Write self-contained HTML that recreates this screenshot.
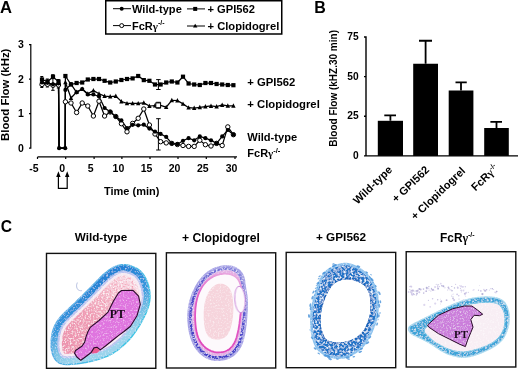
<!DOCTYPE html>
<html><head><meta charset="utf-8"><style>
html,body{margin:0;padding:0;background:#fff;width:520px;height:370px;overflow:hidden}
svg{display:block;will-change:transform}
</style></head><body>
<svg width="520" height="370" viewBox="0 0 520 370" font-family='"Liberation Sans", sans-serif' fill="#000">
<text x="0" y="13" font-size="16.6" font-weight="bold">A</text>
<text x="314.2" y="13" font-size="16" font-weight="bold">B</text>
<text x="0.8" y="232.4" font-size="15.6" font-weight="bold">C</text>
<rect x="105.75" y="0.75" width="176" height="33.25" fill="none" stroke="#000" stroke-width="1.5"/>
<line x1="113" y1="8.7" x2="131" y2="8.7" stroke="#000" stroke-width="1"/><circle cx="121.7" cy="8.7" r="2" fill="#000"/>
<text x="132" y="13" font-size="11.1" font-weight="bold">Wild-type</text>
<line x1="113" y1="25.6" x2="131" y2="25.6" stroke="#000" stroke-width="1"/><circle cx="121.7" cy="25.6" r="2" fill="#fff" stroke="#000" stroke-width="1"/>
<text x="132" y="29.6" font-size="11" font-weight="bold">FcR<tspan font-family="Liberation Serif">γ</tspan><tspan font-size="7" dy="-4.5">-/-</tspan></text>
<line x1="187" y1="8.9" x2="205" y2="8.9" stroke="#000" stroke-width="1"/><rect x="193.2" y="6.9" width="4" height="4" fill="#000"/>
<text x="207.5" y="13" font-size="11.15" font-weight="bold">+ GPI562</text>
<line x1="187" y1="26" x2="205" y2="26" stroke="#000" stroke-width="1"/><path d="M195.2,23.8 L197.4,27.6 L193,27.6 Z" fill="#000"/>
<text x="207.5" y="29.6" font-size="11.2" font-weight="bold">+ Clopidogrel</text>
<path d="M29,44.6 H30.8 V148.2 H29 M29,79.2 H30.8 M29,113.7 H30.8" fill="none" stroke="#000" stroke-width="1.2"/>
<text x="23.9" y="48.0" font-size="10.5" font-weight="bold" text-anchor="end">3</text>
<text x="23.9" y="82.6" font-size="10.5" font-weight="bold" text-anchor="end">2</text>
<text x="23.9" y="117.2" font-size="10.5" font-weight="bold" text-anchor="end">1</text>
<text x="23.9" y="151.8" font-size="10.5" font-weight="bold" text-anchor="end">0</text>
<text transform="translate(9.4,141) rotate(-90)" font-size="11.4" font-weight="bold">Blood Flow (kHz)</text>
<path d="M37.5,156.9 H237 M37.5,156.9 V159 M65.7,156.9 V159 M94.1,156.9 V159 M121.9,156.9 V159 M150,156.9 V159 M178,156.9 V159 M206.3,156.9 V159 M235,156.9 V159" fill="none" stroke="#000" stroke-width="1.2"/>
<text x="34.0" y="172" font-size="10.5" font-weight="bold" text-anchor="middle">-5</text>
<text x="62.2" y="172" font-size="10.5" font-weight="bold" text-anchor="middle">0</text>
<text x="90.6" y="172" font-size="10.5" font-weight="bold" text-anchor="middle">5</text>
<text x="118.4" y="172" font-size="10.5" font-weight="bold" text-anchor="middle">10</text>
<text x="146.5" y="172" font-size="10.5" font-weight="bold" text-anchor="middle">15</text>
<text x="174.5" y="172" font-size="10.5" font-weight="bold" text-anchor="middle">20</text>
<text x="202.8" y="172" font-size="10.5" font-weight="bold" text-anchor="middle">25</text>
<text x="231.5" y="172" font-size="10.5" font-weight="bold" text-anchor="middle">30</text>
<text x="104" y="195" font-size="11" font-weight="bold">Time (min)</text>
<path d="M58.4,177 V188.4 H67.2 V177" fill="none" stroke="#000" stroke-width="1.2"/>
<path d="M58.4,171.2 L60.6,177 L56.2,177 Z M67.2,171.2 L69.4,177 L65,177 Z" fill="#000"/>
<polyline points="42.0,84.5 47.5,84.3 53.0,85.3 58.5,85.0 59.1,148.2 65.2,148.2 65.4,101.8 71.0,103.0 76.6,112.5 82.2,103.0 87.8,106.0 93.4,116.0 99.0,101.2 104.6,116.0 110.2,112.0 115.8,116.5 121.4,123.7 127.0,131.8 132.6,123.4 138.2,118.3 143.8,109.0 149.4,125.0 155.0,134.0 160.6,141.7 166.2,142.9 171.8,143.4 177.4,144.5 183.0,145.5 188.6,146.4 194.2,146.4 199.8,140.3 205.4,144.7 211.0,146.0 216.6,143.4 222.2,145.5 227.8,126.9 233.4,134.7" fill="none" stroke="#000" stroke-width="1.25"/>
<polyline points="42.0,79.5 47.5,81.5 53.0,77.0 58.5,81.5 59.1,148.2 65.2,148.2 65.4,76.0 71.0,84.5 76.6,83.0 82.2,82.5 87.8,79.5 93.4,79.0 99.0,79.0 104.6,80.8 110.2,82.5 115.8,81.5 121.4,80.0 127.0,79.0 132.6,78.4 138.2,76.0 143.8,80.1 149.4,80.8 155.0,84.5 160.6,84.5 166.2,82.5 171.8,81.5 177.4,82.5 183.0,76.7 188.6,83.5 194.2,84.5 199.8,85.0 205.4,83.0 211.0,83.0 216.6,84.0 222.2,84.5 227.8,85.0 233.4,85.2" fill="none" stroke="#000" stroke-width="1.25"/>
<polyline points="42.0,84.0 47.5,83.0 53.0,84.5 58.5,84.0 59.1,148.2 65.2,148.2 65.4,82.3 71.0,98.0 76.6,92.0 82.2,89.0 87.8,93.7 93.4,90.5 99.0,93.7 104.6,96.1 110.2,96.6 115.8,96.1 121.4,101.5 127.0,103.4 132.6,103.4 138.2,103.4 143.8,102.8 149.4,106.0 155.0,105.5 160.6,105.3 166.2,107.2 171.8,100.3 177.4,100.5 183.0,103.9 188.6,107.7 194.2,108.0 199.8,107.3 205.4,106.6 211.0,106.0 216.6,106.6 222.2,105.0 227.8,105.8 233.4,105.8" fill="none" stroke="#000" stroke-width="1.25"/>
<polyline points="42.0,82.5 47.5,82.8 53.0,84.3 58.5,83.5 59.1,148.2 65.2,148.2 65.4,89.9 71.0,84.2 76.6,92.3 82.2,89.0 87.8,94.5 93.4,94.5 99.0,96.5 104.6,108.0 110.2,111.8 115.8,116.6 121.4,120.4 127.0,128.0 132.6,124.8 138.2,125.3 143.8,124.7 149.4,128.6 155.0,131.6 160.6,133.9 166.2,136.9 171.8,143.4 177.4,144.2 183.0,140.8 188.6,138.2 194.2,140.3 199.8,136.4 205.4,138.2 211.0,140.3 216.6,143.4 222.2,136.4 227.8,130.0 233.4,134.7" fill="none" stroke="#000" stroke-width="1.25"/>
<path d="M158.4,79.6 V89.5 M156.15,79.6 H160.65 M156.15,89.5 H160.65" stroke="#000" stroke-width="1" fill="none"/>
<path d="M158.4,102.3 V108.2 M156.15,102.3 H160.65 M156.15,108.2 H160.65" stroke="#000" stroke-width="1" fill="none"/>
<path d="M158.4,118.7 V150 M156.15,118.7 H160.65 M156.15,150 H160.65" stroke="#000" stroke-width="1" fill="none"/>
<path d="M52.9,74.7 V90.3 M51.15,74.7 H54.65 M51.15,90.3 H54.65" stroke="#000" stroke-width="1" fill="none"/>
<path d="M41.8,76.5 V87.5 M40.3,76.5 H43.3 M40.3,87.5 H43.3" stroke="#000" stroke-width="1" fill="none"/>
<path d="M58.3,79.5 V88 M56.8,79.5 H59.8 M56.8,88 H59.8" stroke="#000" stroke-width="1" fill="none"/>
<path d="M47.3,79 V87 M45.8,79 H48.8 M45.8,87 H48.8" stroke="#000" stroke-width="1" fill="none"/>
<path d="M42.0,81.5 L44.2,85.9 L39.8,85.9 Z" fill="#000"/>
<path d="M47.5,80.5 L49.7,84.9 L45.3,84.9 Z" fill="#000"/>
<path d="M53.0,82.0 L55.2,86.4 L50.8,86.4 Z" fill="#000"/>
<path d="M58.5,81.5 L60.7,85.9 L56.3,85.9 Z" fill="#000"/>
<path d="M65.4,79.8 L67.6,84.2 L63.2,84.2 Z" fill="#000"/>
<path d="M71.0,95.5 L73.2,99.9 L68.8,99.9 Z" fill="#000"/>
<path d="M76.6,89.5 L78.8,93.9 L74.4,93.9 Z" fill="#000"/>
<path d="M82.2,86.5 L84.4,90.9 L80.0,90.9 Z" fill="#000"/>
<path d="M87.8,91.2 L90.0,95.6 L85.6,95.6 Z" fill="#000"/>
<path d="M93.4,88.0 L95.6,92.4 L91.2,92.4 Z" fill="#000"/>
<path d="M99.0,91.2 L101.2,95.6 L96.8,95.6 Z" fill="#000"/>
<path d="M104.6,93.6 L106.8,98.0 L102.4,98.0 Z" fill="#000"/>
<path d="M110.2,94.1 L112.4,98.5 L108.0,98.5 Z" fill="#000"/>
<path d="M115.8,93.6 L118.0,98.0 L113.6,98.0 Z" fill="#000"/>
<path d="M121.4,99.0 L123.6,103.4 L119.2,103.4 Z" fill="#000"/>
<path d="M127.0,100.9 L129.2,105.3 L124.8,105.3 Z" fill="#000"/>
<path d="M132.6,100.9 L134.8,105.3 L130.4,105.3 Z" fill="#000"/>
<path d="M138.2,100.9 L140.4,105.3 L136.0,105.3 Z" fill="#000"/>
<path d="M143.8,100.3 L146.0,104.7 L141.6,104.7 Z" fill="#000"/>
<path d="M149.4,103.5 L151.6,107.9 L147.2,107.9 Z" fill="#000"/>
<path d="M155.0,103.0 L157.2,107.4 L152.8,107.4 Z" fill="#000"/>
<rect x="155.8" y="102.9" width="4.8" height="4.8" fill="#fff" stroke="#000" stroke-width="1"/>
<path d="M166.2,104.7 L168.4,109.1 L164.0,109.1 Z" fill="#000"/>
<path d="M171.8,97.8 L174.0,102.2 L169.6,102.2 Z" fill="#000"/>
<path d="M177.4,98.0 L179.6,102.4 L175.2,102.4 Z" fill="#000"/>
<path d="M183.0,101.4 L185.2,105.8 L180.8,105.8 Z" fill="#000"/>
<path d="M188.6,105.2 L190.8,109.6 L186.4,109.6 Z" fill="#000"/>
<path d="M194.2,105.5 L196.4,109.9 L192.0,109.9 Z" fill="#000"/>
<path d="M199.8,104.8 L202.0,109.2 L197.6,109.2 Z" fill="#000"/>
<path d="M205.4,104.1 L207.6,108.5 L203.2,108.5 Z" fill="#000"/>
<path d="M211.0,103.5 L213.2,107.9 L208.8,107.9 Z" fill="#000"/>
<path d="M216.6,104.1 L218.8,108.5 L214.4,108.5 Z" fill="#000"/>
<path d="M222.2,102.5 L224.4,106.9 L220.0,106.9 Z" fill="#000"/>
<path d="M227.8,103.3 L230.0,107.7 L225.6,107.7 Z" fill="#000"/>
<path d="M233.4,103.3 L235.6,107.7 L231.2,107.7 Z" fill="#000"/>
<rect x="39.9" y="77.4" width="4.2" height="4.2" fill="#000"/>
<rect x="45.4" y="79.4" width="4.2" height="4.2" fill="#000"/>
<rect x="50.9" y="74.9" width="4.2" height="4.2" fill="#000"/>
<rect x="56.4" y="79.4" width="4.2" height="4.2" fill="#000"/>
<rect x="63.3" y="73.9" width="4.2" height="4.2" fill="#000"/>
<rect x="68.9" y="82.4" width="4.2" height="4.2" fill="#000"/>
<rect x="74.5" y="80.9" width="4.2" height="4.2" fill="#000"/>
<rect x="80.1" y="80.4" width="4.2" height="4.2" fill="#000"/>
<rect x="85.7" y="77.4" width="4.2" height="4.2" fill="#000"/>
<rect x="91.3" y="76.9" width="4.2" height="4.2" fill="#000"/>
<rect x="96.9" y="76.9" width="4.2" height="4.2" fill="#000"/>
<rect x="102.5" y="78.7" width="4.2" height="4.2" fill="#000"/>
<rect x="108.1" y="80.4" width="4.2" height="4.2" fill="#000"/>
<rect x="113.7" y="79.4" width="4.2" height="4.2" fill="#000"/>
<rect x="119.3" y="77.9" width="4.2" height="4.2" fill="#000"/>
<rect x="124.9" y="76.9" width="4.2" height="4.2" fill="#000"/>
<rect x="130.5" y="76.3" width="4.2" height="4.2" fill="#000"/>
<rect x="136.1" y="73.9" width="4.2" height="4.2" fill="#000"/>
<rect x="141.7" y="78.0" width="4.2" height="4.2" fill="#000"/>
<rect x="147.3" y="78.7" width="4.2" height="4.2" fill="#000"/>
<rect x="152.9" y="82.4" width="4.2" height="4.2" fill="#000"/>
<rect x="158.5" y="82.4" width="4.2" height="4.2" fill="#000"/>
<rect x="164.1" y="80.4" width="4.2" height="4.2" fill="#000"/>
<rect x="169.7" y="79.4" width="4.2" height="4.2" fill="#000"/>
<rect x="175.3" y="80.4" width="4.2" height="4.2" fill="#000"/>
<rect x="180.9" y="74.6" width="4.2" height="4.2" fill="#000"/>
<rect x="186.5" y="81.4" width="4.2" height="4.2" fill="#000"/>
<rect x="192.1" y="82.4" width="4.2" height="4.2" fill="#000"/>
<rect x="197.7" y="82.9" width="4.2" height="4.2" fill="#000"/>
<rect x="203.3" y="80.9" width="4.2" height="4.2" fill="#000"/>
<rect x="208.9" y="80.9" width="4.2" height="4.2" fill="#000"/>
<rect x="214.5" y="81.9" width="4.2" height="4.2" fill="#000"/>
<rect x="220.1" y="82.4" width="4.2" height="4.2" fill="#000"/>
<rect x="225.7" y="82.9" width="4.2" height="4.2" fill="#000"/>
<rect x="231.3" y="83.1" width="4.2" height="4.2" fill="#000"/>
<circle cx="42.0" cy="84.5" r="2.2" fill="#fff" stroke="#000" stroke-width="1"/>
<circle cx="47.5" cy="84.3" r="2.2" fill="#fff" stroke="#000" stroke-width="1"/>
<circle cx="53.0" cy="85.3" r="2.2" fill="#fff" stroke="#000" stroke-width="1"/>
<circle cx="58.5" cy="85.0" r="2.2" fill="#fff" stroke="#000" stroke-width="1"/>
<circle cx="65.4" cy="101.8" r="2.2" fill="#fff" stroke="#000" stroke-width="1"/>
<circle cx="71.0" cy="103.0" r="2.2" fill="#fff" stroke="#000" stroke-width="1"/>
<circle cx="76.6" cy="112.5" r="2.2" fill="#fff" stroke="#000" stroke-width="1"/>
<circle cx="82.2" cy="103.0" r="2.2" fill="#fff" stroke="#000" stroke-width="1"/>
<circle cx="87.8" cy="106.0" r="2.2" fill="#fff" stroke="#000" stroke-width="1"/>
<circle cx="93.4" cy="116.0" r="2.2" fill="#fff" stroke="#000" stroke-width="1"/>
<circle cx="99.0" cy="101.2" r="2.2" fill="#fff" stroke="#000" stroke-width="1"/>
<circle cx="104.6" cy="116.0" r="2.2" fill="#fff" stroke="#000" stroke-width="1"/>
<circle cx="110.2" cy="112.0" r="2.2" fill="#fff" stroke="#000" stroke-width="1"/>
<circle cx="115.8" cy="116.5" r="2.2" fill="#fff" stroke="#000" stroke-width="1"/>
<circle cx="121.4" cy="123.7" r="2.2" fill="#fff" stroke="#000" stroke-width="1"/>
<circle cx="127.0" cy="131.8" r="2.2" fill="#fff" stroke="#000" stroke-width="1"/>
<circle cx="132.6" cy="123.4" r="2.2" fill="#fff" stroke="#000" stroke-width="1"/>
<circle cx="138.2" cy="118.3" r="2.2" fill="#fff" stroke="#000" stroke-width="1"/>
<circle cx="143.8" cy="109.0" r="2.2" fill="#fff" stroke="#000" stroke-width="1"/>
<circle cx="149.4" cy="125.0" r="2.2" fill="#fff" stroke="#000" stroke-width="1"/>
<circle cx="155.0" cy="134.0" r="2.2" fill="#fff" stroke="#000" stroke-width="1"/>
<circle cx="160.6" cy="141.7" r="2.2" fill="#fff" stroke="#000" stroke-width="1"/>
<circle cx="166.2" cy="142.9" r="2.2" fill="#fff" stroke="#000" stroke-width="1"/>
<circle cx="171.8" cy="143.4" r="2.2" fill="#fff" stroke="#000" stroke-width="1"/>
<circle cx="177.4" cy="144.5" r="2.2" fill="#fff" stroke="#000" stroke-width="1"/>
<circle cx="183.0" cy="145.5" r="2.2" fill="#fff" stroke="#000" stroke-width="1"/>
<circle cx="188.6" cy="146.4" r="2.2" fill="#fff" stroke="#000" stroke-width="1"/>
<circle cx="194.2" cy="146.4" r="2.2" fill="#fff" stroke="#000" stroke-width="1"/>
<circle cx="199.8" cy="140.3" r="2.2" fill="#fff" stroke="#000" stroke-width="1"/>
<circle cx="205.4" cy="144.7" r="2.2" fill="#fff" stroke="#000" stroke-width="1"/>
<circle cx="211.0" cy="146.0" r="2.2" fill="#fff" stroke="#000" stroke-width="1"/>
<circle cx="216.6" cy="143.4" r="2.2" fill="#fff" stroke="#000" stroke-width="1"/>
<circle cx="222.2" cy="145.5" r="2.2" fill="#fff" stroke="#000" stroke-width="1"/>
<circle cx="227.8" cy="126.9" r="2.2" fill="#fff" stroke="#000" stroke-width="1"/>
<circle cx="233.4" cy="134.7" r="2.2" fill="#fff" stroke="#000" stroke-width="1"/>
<circle cx="42.0" cy="82.5" r="2.1" fill="#000"/>
<circle cx="47.5" cy="82.8" r="2.1" fill="#000"/>
<circle cx="53.0" cy="84.3" r="2.1" fill="#000"/>
<circle cx="58.5" cy="83.5" r="2.1" fill="#000"/>
<circle cx="59.1" cy="148.2" r="2.1" fill="#000"/>
<circle cx="65.2" cy="148.2" r="2.1" fill="#000"/>
<circle cx="65.4" cy="89.9" r="2.1" fill="#000"/>
<circle cx="71.0" cy="84.2" r="2.1" fill="#000"/>
<circle cx="76.6" cy="92.3" r="2.1" fill="#000"/>
<circle cx="82.2" cy="89.0" r="2.1" fill="#000"/>
<circle cx="87.8" cy="94.5" r="2.1" fill="#000"/>
<circle cx="93.4" cy="94.5" r="2.1" fill="#000"/>
<circle cx="99.0" cy="96.5" r="2.1" fill="#000"/>
<circle cx="104.6" cy="108.0" r="2.1" fill="#000"/>
<circle cx="110.2" cy="111.8" r="2.1" fill="#000"/>
<circle cx="115.8" cy="116.6" r="2.1" fill="#000"/>
<circle cx="121.4" cy="120.4" r="2.1" fill="#000"/>
<circle cx="127.0" cy="128.0" r="2.1" fill="#000"/>
<circle cx="132.6" cy="124.8" r="2.1" fill="#000"/>
<circle cx="138.2" cy="125.3" r="2.1" fill="#000"/>
<circle cx="143.8" cy="124.7" r="2.1" fill="#000"/>
<circle cx="149.4" cy="128.6" r="2.1" fill="#000"/>
<circle cx="155.0" cy="131.6" r="2.1" fill="#000"/>
<circle cx="160.6" cy="133.9" r="2.1" fill="#000"/>
<circle cx="166.2" cy="136.9" r="2.1" fill="#000"/>
<circle cx="171.8" cy="143.4" r="2.1" fill="#000"/>
<circle cx="177.4" cy="144.2" r="2.1" fill="#000"/>
<circle cx="183.0" cy="140.8" r="2.1" fill="#000"/>
<circle cx="188.6" cy="138.2" r="2.1" fill="#000"/>
<circle cx="194.2" cy="140.3" r="2.1" fill="#000"/>
<circle cx="199.8" cy="136.4" r="2.1" fill="#000"/>
<circle cx="205.4" cy="138.2" r="2.1" fill="#000"/>
<circle cx="211.0" cy="140.3" r="2.1" fill="#000"/>
<circle cx="216.6" cy="143.4" r="2.1" fill="#000"/>
<circle cx="222.2" cy="136.4" r="2.1" fill="#000"/>
<circle cx="227.8" cy="130.0" r="2.1" fill="#000"/>
<circle cx="233.4" cy="134.7" r="2.1" fill="#000"/>
<text x="247.3" y="86" font-size="11.3" font-weight="bold">+ GPI562</text>
<text x="247.3" y="108" font-size="11.3" font-weight="bold">+ Clopidogrel</text>
<text x="247.3" y="140.6" font-size="11.1" font-weight="bold">Wild-type</text>
<text x="247.3" y="157.3" font-size="11" font-weight="bold">FcR<tspan font-family="Liberation Serif">γ</tspan><tspan font-size="7.6" dy="-4.5">-/-</tspan></text>
<path d="M364,37 H366 V155.9 H518 M364,76.6 H366 M364,116.2 H366 M364,155.9 H366" fill="none" stroke="#000" stroke-width="1.4"/>
<text x="358.6" y="40.1" font-size="10.2" font-weight="bold" text-anchor="end">75</text>
<text x="358.6" y="79.7" font-size="10.2" font-weight="bold" text-anchor="end">50</text>
<text x="358.6" y="119.3" font-size="10.2" font-weight="bold" text-anchor="end">25</text>
<text x="358.6" y="158.9" font-size="10.2" font-weight="bold" text-anchor="end">0</text>
<text transform="translate(337,146.7) rotate(-90)" font-size="10" font-weight="bold">Blood Flow (kHZ.30 min)</text>
<rect x="377.8" y="120.8" width="25.2" height="35.1" fill="#000"/>
<path d="M390.4,120.8 V115.4 M384.3,115.4 H396" stroke="#000" stroke-width="1.8" fill="none"/>
<rect x="413.2" y="63.75" width="24.8" height="92.2" fill="#000"/>
<path d="M425.6,63.75 V40.75 M419,40.75 H432" stroke="#000" stroke-width="1.8" fill="none"/>
<rect x="448.7" y="90.5" width="24.7" height="65.4" fill="#000"/>
<path d="M461.0,90.5 V82.3 M455.5,82.3 H466.75" stroke="#000" stroke-width="1.8" fill="none"/>
<rect x="484.2" y="128" width="24.6" height="27.9" fill="#000"/>
<path d="M496.5,128 V121.8 M490.4,121.8 H502" stroke="#000" stroke-width="1.8" fill="none"/>
<text transform="translate(393,170.5) rotate(-44)" font-size="11" font-weight="bold" text-anchor="end">Wild-type</text>
<text transform="translate(430,170.5) rotate(-44)" font-size="11" font-weight="bold" text-anchor="end">+ GPI562</text>
<text transform="translate(466,171.5) rotate(-44)" font-size="11" font-weight="bold" text-anchor="end">+ Clopidogrel</text>
<text transform="translate(499,169) rotate(-44)" font-size="11" font-weight="bold" text-anchor="end">FcR<tspan font-family="Liberation Serif">γ</tspan><tspan font-size="7" dy="-4">-/-</tspan></text>
<text x="101" y="241.3" font-size="11.7" font-weight="bold" text-anchor="middle">Wild-type</text>
<text x="220.9" y="241.6" font-size="12.15" font-weight="bold" text-anchor="middle">+ Clopidogrel</text>
<text x="341" y="241.3" font-size="11.8" font-weight="bold" text-anchor="middle">+ GPI562</text>
<text x="440" y="241.9" font-size="11.9" font-weight="bold">FcR<tspan font-family="Liberation Serif">γ</tspan><tspan font-size="7" dy="-4.5">-/-</tspan></text>
<defs>
<filter id="tex" x="0" y="0" width="100%" height="100%">
 <feTurbulence type="fractalNoise" baseFrequency="0.55" numOctaves="2" seed="4" result="n"/>
 <feColorMatrix in="n" type="matrix" values="0 0 0 0 1  0 0 0 0 1  0 0 0 0 1  0 0 0 -2.0 1.1" result="w"/>
 <feComposite in="w" in2="SourceGraphic" operator="in" result="wm"/>
 <feMerge><feMergeNode in="SourceGraphic"/><feMergeNode in="wm"/></feMerge>
 <feGaussianBlur stdDeviation="0.45"/>
</filter>
<filter id="texl" x="0" y="0" width="100%" height="100%">
 <feTurbulence type="fractalNoise" baseFrequency="0.6" numOctaves="2" seed="7" result="n"/>
 <feColorMatrix in="n" type="matrix" values="0 0 0 0 1  0 0 0 0 1  0 0 0 0 1  0 0 0 -1.6 0.8" result="w"/>
 <feComposite in="w" in2="SourceGraphic" operator="in" result="wm"/>
 <feMerge><feMergeNode in="SourceGraphic"/><feMergeNode in="wm"/></feMerge>
 <feGaussianBlur stdDeviation="0.45"/>
</filter>
<filter id="texd" x="0" y="0" width="100%" height="100%">
 <feTurbulence type="fractalNoise" baseFrequency="0.5" numOctaves="2" seed="9" result="n"/>
 <feColorMatrix in="n" type="matrix" values="0 0 0 0 0.9  0 0 0 0 0.3  0 0 0 0 0.42  0 0 0 -2.6 1.45" result="w"/>
 <feComposite in="w" in2="SourceGraphic" operator="in" result="wm"/>
 <feTurbulence type="fractalNoise" baseFrequency="0.6" numOctaves="2" seed="21" result="n2"/>
 <feColorMatrix in="n2" type="matrix" values="0 0 0 0 1  0 0 0 0 0.97  0 0 0 0 0.98  0 0 0 -2.6 1.4" result="w2"/>
 <feComposite in="w2" in2="SourceGraphic" operator="in" result="wm2"/>
 <feMerge><feMergeNode in="SourceGraphic"/><feMergeNode in="wm"/><feMergeNode in="wm2"/></feMerge>
 <feGaussianBlur stdDeviation="0.4"/>
</filter>
<filter id="texb" x="0" y="0" width="100%" height="100%">
 <feTurbulence type="fractalNoise" baseFrequency="0.6" numOctaves="2" seed="5" result="n"/>
 <feColorMatrix in="n" type="matrix" values="0 0 0 0 0.75  0 0 0 0 0.85  0 0 0 0 0.95  0 0 0 -2.0 0.95" result="w"/>
 <feComposite in="w" in2="SourceGraphic" operator="in" result="wm"/>
 <feMerge><feMergeNode in="SourceGraphic"/><feMergeNode in="wm"/></feMerge>
 <feGaussianBlur stdDeviation="0.45"/>
</filter>
<filter id="texg" x="0" y="0" width="100%" height="100%">
 <feTurbulence type="fractalNoise" baseFrequency="0.45" numOctaves="2" seed="13" result="n"/>
 <feColorMatrix in="n" type="matrix" values="0 0 0 0 0.82  0 0 0 0 0.92  0 0 0 0 1.0  0 0 0 -3.0 1.7" result="w"/>
 <feComposite in="w" in2="SourceGraphic" operator="in" result="wm"/>
 <feMerge><feMergeNode in="SourceGraphic"/><feMergeNode in="wm"/></feMerge>
 <feGaussianBlur stdDeviation="0.45"/>
</filter>
<filter id="texc" x="0" y="0" width="100%" height="100%">
 <feTurbulence type="fractalNoise" baseFrequency="0.55" numOctaves="2" seed="17" result="n"/>
 <feColorMatrix in="n" type="matrix" values="0 0 0 0 0.85  0 0 0 0 0.85  0 0 0 0 1.0  0 0 0 -2.6 1.45" result="w"/>
 <feComposite in="w" in2="SourceGraphic" operator="in" result="wm"/>
 <feMerge><feMergeNode in="SourceGraphic"/><feMergeNode in="wm"/></feMerge>
 <feGaussianBlur stdDeviation="0.45"/>
</filter>
<filter id="texp" x="0" y="0" width="100%" height="100%">
 <feTurbulence type="fractalNoise" baseFrequency="0.6" numOctaves="2" seed="11" result="n"/>
 <feColorMatrix in="n" type="matrix" values="0 0 0 0 0.97  0 0 0 0 0.75  0 0 0 0 0.97  0 0 0 -2.0 0.95" result="w"/>
 <feComposite in="w" in2="SourceGraphic" operator="in" result="wm"/>
 <feMerge><feMergeNode in="SourceGraphic"/><feMergeNode in="wm"/></feMerge>
 <feGaussianBlur stdDeviation="0.45"/>
</filter>
<linearGradient id="wtband" gradientUnits="userSpaceOnUse" x1="98" y1="278" x2="126" y2="334">
<stop offset="0" stop-color="#2480d4"/><stop offset="0.45" stop-color="#3596dc"/><stop offset="0.8" stop-color="#7cc4e6"/><stop offset="1" stop-color="#9cd4ec"/></linearGradient>
<linearGradient id="wtout" gradientUnits="userSpaceOnUse" x1="100" y1="270" x2="150" y2="300">
<stop offset="0" stop-color="#5aaee6"/><stop offset="1" stop-color="#3ec4e4"/></linearGradient>
<linearGradient id="wtlum" gradientUnits="userSpaceOnUse" x1="130" y1="275" x2="70" y2="350">
<stop offset="0" stop-color="#f9e4ec"/><stop offset="0.3" stop-color="#f3bccc"/><stop offset="0.6" stop-color="#ee9eb6"/><stop offset="1" stop-color="#ea92ae"/></linearGradient>
<linearGradient id="clmag" gradientUnits="userSpaceOnUse" x1="205" y1="345" x2="235" y2="272">
<stop offset="0" stop-color="#e048bc"/><stop offset="0.55" stop-color="#e060c8"/><stop offset="1" stop-color="#eab0e2"/></linearGradient>
<linearGradient id="clband" gradientUnits="userSpaceOnUse" x1="195" y1="345" x2="245" y2="272">
<stop offset="0" stop-color="#4440c6"/><stop offset="0.5" stop-color="#5450cc"/><stop offset="1" stop-color="#8a86dc"/></linearGradient>
<filter id="blur1"><feGaussianBlur stdDeviation="0.6"/></filter>

</defs>
<path d="M132.9,265.9 L131.8,265.5 L130.7,265.1 L129.6,264.8 L128.5,264.6 L127.5,264.3 L126.5,264.2 L125.5,264.0 L124.5,264.0 L123.5,264.0 L122.4,264.0 L121.4,264.1 L120.3,264.3 L119.2,264.5 L118.0,264.7 L116.9,265.1 L115.7,265.5 L114.5,266.0 L113.2,266.6 L112.0,267.3 L110.7,268.0 L109.4,268.9 L108.0,269.8 L106.7,270.9 L105.3,271.9 L104.0,273.0 L102.7,274.1 L101.5,275.3 L100.2,276.5 L99.0,277.7 L97.8,278.9 L96.6,280.1 L95.4,281.4 L94.2,282.7 L92.9,284.0 L91.7,285.3 L90.4,286.6 L89.0,288.0 L87.7,289.3 L86.3,290.7 L84.9,292.1 L83.5,293.5 L82.1,294.9 L80.7,296.3 L79.2,297.7 L77.7,299.1 L76.2,300.5 L74.8,302.0 L73.3,303.4 L71.8,304.8 L70.3,306.2 L68.9,307.6 L67.5,308.9 L66.1,310.3 L64.7,311.6 L63.3,312.9 L62.0,314.2 L60.8,315.5 L59.7,316.8 L58.6,318.2 L57.6,319.5 L56.7,320.8 L55.9,322.1 L55.1,323.4 L54.4,324.7 L53.8,326.1 L53.2,327.5 L52.7,328.9 L52.2,330.3 L51.8,331.8 L51.5,333.2 L51.2,334.8 L51.0,336.3 L50.8,337.8 L50.6,339.3 L50.5,340.8 L50.4,342.3 L50.4,343.9 L50.4,345.4 L50.5,347.0 L50.6,348.5 L50.8,349.9 L51.1,351.3 L51.4,352.7 L51.8,354.0 L52.2,355.3 L52.7,356.5 L53.3,357.7 L53.9,358.8 L54.6,359.8 L55.3,360.7 L56.1,361.5 L56.9,362.2 L57.8,362.9 L58.7,363.4 L59.7,363.9 L60.7,364.3 L61.8,364.6 L62.9,364.9 L64.1,365.1 L65.3,365.2 L66.6,365.2 L67.9,365.2 L69.2,365.2 L70.6,365.1 L72.0,365.0 L73.5,364.8 L74.9,364.7 L76.4,364.6 L77.9,364.4 L79.4,364.2 L81.0,364.0 L82.5,363.8 L84.1,363.5 L85.6,363.3 L87.2,363.0 L88.7,362.6 L90.3,362.3 L91.8,361.9 L93.4,361.6 L94.9,361.1 L96.5,360.7 L98.0,360.2 L99.6,359.8 L101.1,359.2 L102.7,358.7 L104.3,358.1 L105.8,357.6 L107.4,356.9 L108.9,356.2 L110.4,355.5 L111.8,354.7 L113.2,353.9 L114.6,353.0 L116.0,352.1 L117.4,351.2 L118.7,350.2 L120.0,349.2 L121.3,348.1 L122.6,347.1 L123.8,346.0 L125.0,344.9 L126.2,343.7 L127.4,342.6 L128.5,341.4 L129.7,340.2 L130.8,338.9 L131.8,337.7 L132.9,336.4 L133.9,335.1 L134.9,333.7 L135.8,332.4 L136.8,331.0 L137.7,329.6 L138.6,328.1 L139.6,326.7 L140.5,325.2 L141.3,323.7 L142.2,322.2 L143.1,320.6 L143.9,319.1 L144.7,317.6 L145.4,316.1 L146.1,314.7 L146.7,313.2 L147.3,311.8 L147.8,310.4 L148.3,309.1 L148.8,307.7 L149.2,306.4 L149.6,305.1 L149.9,303.9 L150.1,302.6 L150.3,301.4 L150.5,300.2 L150.6,299.1 L150.7,297.9 L150.7,296.7 L150.7,295.6 L150.7,294.4 L150.6,293.2 L150.5,292.1 L150.3,290.9 L150.2,289.7 L149.9,288.5 L149.7,287.4 L149.4,286.2 L149.1,285.1 L148.8,283.9 L148.4,282.8 L148.0,281.6 L147.5,280.5 L147.0,279.4 L146.5,278.3 L145.9,277.2 L145.3,276.1 L144.6,275.1 L143.9,274.1 L143.2,273.0 L142.3,272.1 L141.5,271.1 L140.6,270.3 L139.6,269.5 L138.6,268.7 L137.6,268.0 L136.5,267.4 L135.3,266.9 L134.1,266.4 L132.9,265.9Z M134.5,268.7 L135.5,269.2 L136.5,269.7 L137.5,270.4 L138.4,271.0 L139.2,271.8 L140.1,272.5 L140.8,273.4 L141.6,274.3 L142.3,275.2 L143.0,276.2 L143.6,277.2 L144.2,278.2 L144.7,279.2 L145.2,280.2 L145.7,281.2 L146.1,282.3 L146.5,283.4 L146.8,284.5 L147.2,285.6 L147.5,286.7 L147.7,287.8 L148.0,288.9 L148.2,290.1 L148.4,291.2 L148.5,292.3 L148.6,293.4 L148.7,294.5 L148.7,295.6 L148.7,296.7 L148.7,297.8 L148.6,298.9 L148.5,300.0 L148.4,301.1 L148.2,302.3 L147.9,303.4 L147.6,304.6 L147.3,305.9 L146.9,307.1 L146.5,308.4 L146.0,309.7 L145.5,311.1 L144.9,312.4 L144.3,313.8 L143.6,315.3 L142.9,316.7 L142.1,318.2 L141.3,319.7 L140.5,321.2 L139.6,322.7 L138.7,324.2 L137.9,325.6 L137.0,327.1 L136.0,328.5 L135.1,329.9 L134.2,331.2 L133.2,332.6 L132.3,333.9 L131.3,335.1 L130.3,336.4 L129.2,337.6 L128.2,338.8 L127.1,340.0 L126.0,341.2 L124.8,342.3 L123.7,343.4 L122.5,344.5 L121.3,345.6 L120.0,346.6 L118.8,347.6 L117.5,348.6 L116.2,349.6 L114.9,350.5 L113.6,351.4 L112.2,352.2 L110.8,353.0 L109.4,353.7 L108.0,354.4 L106.6,355.1 L105.1,355.7 L103.6,356.3 L102.0,356.8 L100.5,357.3 L99.0,357.9 L97.5,358.3 L95.9,358.8 L94.4,359.2 L92.9,359.6 L91.4,360.0 L89.8,360.4 L88.3,360.7 L86.8,361.0 L85.3,361.3 L83.7,361.6 L82.2,361.8 L80.7,362.0 L79.2,362.2 L77.7,362.4 L76.2,362.6 L74.7,362.7 L73.3,362.9 L71.9,363.0 L70.5,363.1 L69.1,363.2 L67.8,363.2 L66.6,363.2 L65.4,363.2 L64.3,363.1 L63.3,362.9 L62.3,362.7 L61.4,362.4 L60.5,362.0 L59.7,361.7 L58.9,361.2 L58.2,360.7 L57.5,360.1 L56.8,359.4 L56.2,358.6 L55.6,357.7 L55.1,356.7 L54.5,355.7 L54.1,354.6 L53.7,353.4 L53.3,352.2 L53.0,350.9 L52.8,349.6 L52.6,348.3 L52.5,346.9 L52.4,345.4 L52.4,343.9 L52.4,342.4 L52.5,340.9 L52.6,339.5 L52.7,338.0 L52.9,336.5 L53.2,335.1 L53.5,333.7 L53.8,332.3 L54.2,330.9 L54.6,329.5 L55.1,328.2 L55.6,326.9 L56.2,325.6 L56.9,324.4 L57.6,323.1 L58.4,321.9 L59.2,320.6 L60.2,319.4 L61.2,318.1 L62.3,316.9 L63.5,315.6 L64.7,314.3 L66.1,313.0 L67.5,311.7 L68.9,310.4 L70.3,309.0 L71.7,307.6 L73.2,306.2 L74.6,304.8 L76.1,303.4 L77.6,302.0 L77.6,302.0 L79.1,300.5 L79.1,300.5 L80.6,299.1 L80.6,299.1 L82.1,297.7 L82.1,297.7 L83.5,296.3 L83.5,296.3 L84.9,294.9 L84.9,294.9 L86.3,293.5 L86.3,293.5 L87.7,292.1 L87.7,292.1 L89.1,290.7 L89.1,290.7 L90.5,289.4 L90.5,289.4 L91.8,288.0 L91.8,288.0 L93.1,286.7 L93.1,286.7 L94.4,285.4 L94.4,285.4 L95.6,284.1 L95.6,284.1 L96.9,282.8 L96.9,282.8 L98.1,281.5 L98.1,281.5 L99.2,280.3 L100.4,279.1 L101.6,277.9 L102.8,276.8 L104.0,275.6 L105.3,274.5 L106.6,273.5 L107.9,272.4 L109.2,271.4 L110.5,270.5 L111.7,269.7 L113.0,269.0 L114.1,268.4 L115.3,267.8 L116.4,267.3 L117.5,267.0 L118.5,266.7 L119.6,266.4 L120.6,266.2 L121.6,266.1 L122.6,266.0 L123.5,266.0 L124.4,266.0 L125.3,266.0 L126.2,266.1 L127.1,266.3 L128.1,266.5 L129.1,266.8 L130.1,267.0 L131.1,267.4 L132.2,267.8 L133.4,268.2 L134.5,268.7Z " fill="url(#wtout)" fill-rule="evenodd" opacity="1" filter="url(#texl)"/>
<path d="M132.4,267.3 L131.3,266.9 L130.2,266.6 L129.2,266.3 L128.2,266.0 L127.2,265.8 L126.3,265.6 L125.4,265.5 L124.5,265.5 L123.5,265.5 L122.5,265.5 L121.6,265.6 L120.5,265.7 L119.5,265.9 L118.4,266.2 L117.3,266.5 L116.2,266.9 L115.1,267.3 L113.9,267.9 L112.7,268.6 L111.5,269.3 L110.2,270.1 L108.9,271.0 L107.6,272.1 L106.3,273.1 L105.0,274.2 L103.7,275.3 L102.5,276.4 L101.2,277.5 L100.0,278.7 L98.9,279.9 L97.7,281.2 L97.7,281.2 L96.5,282.4 L96.5,282.4 L95.3,283.7 L95.3,283.7 L94.0,285.0 L94.0,285.0 L92.7,286.3 L92.7,286.3 L91.4,287.7 L91.4,287.7 L90.1,289.0 L90.1,289.0 L88.8,290.4 L88.7,290.4 L87.4,291.7 L87.4,291.8 L86.0,293.1 L86.0,293.1 L84.6,294.5 L84.6,294.5 L83.1,295.9 L83.1,295.9 L81.7,297.3 L81.7,297.3 L80.2,298.8 L80.2,298.8 L78.8,300.2 L78.8,300.2 L77.3,301.6 L77.3,301.6 L75.8,303.1 L74.3,304.5 L72.8,305.9 L71.4,307.3 L69.9,308.6 L68.5,310.0 L67.1,311.4 L65.7,312.7 L64.4,314.0 L63.1,315.3 L61.9,316.5 L60.8,317.8 L59.8,319.1 L58.8,320.3 L58.0,321.6 L57.2,322.9 L56.4,324.1 L55.8,325.4 L55.2,326.7 L54.6,328.0 L54.1,329.4 L53.7,330.8 L53.3,332.1 L53.0,333.6 L52.7,335.0 L52.4,336.5 L52.3,337.9 L52.1,339.4 L52.0,340.9 L51.9,342.4 L51.9,343.9 L51.9,345.4 L52.0,346.9 L52.1,348.3 L52.3,349.7 L52.5,351.0 L52.8,352.3 L53.2,353.6 L53.6,354.8 L54.1,355.9 L54.6,357.0 L55.2,358.0 L55.8,358.9 L56.4,359.7 L57.1,360.4 L57.9,361.1 L58.6,361.6 L59.4,362.1 L60.3,362.5 L61.2,362.9 L62.2,363.2 L63.2,363.4 L64.3,363.6 L65.4,363.7 L66.6,363.7 L67.8,363.7 L69.1,363.7 L70.5,363.6 L71.9,363.5 L73.3,363.3 L74.8,363.2 L76.2,363.1 L77.7,362.9 L79.2,362.7 L80.8,362.5 L82.3,362.3 L83.8,362.1 L85.4,361.8 L86.9,361.5 L88.4,361.2 L89.9,360.8 L91.5,360.5 L93.0,360.1 L94.5,359.7 L96.1,359.3 L97.6,358.8 L99.1,358.3 L100.7,357.8 L102.2,357.3 L103.8,356.7 L105.3,356.2 L106.8,355.5 L108.2,354.9 L109.7,354.2 L111.1,353.4 L112.5,352.6 L113.8,351.8 L115.2,350.9 L116.5,350.0 L117.8,349.0 L119.1,348.0 L120.3,347.0 L121.6,345.9 L122.8,344.9 L124.0,343.8 L125.2,342.7 L126.3,341.5 L127.4,340.4 L128.5,339.2 L129.6,337.9 L130.7,336.7 L131.7,335.5 L132.7,334.2 L133.7,332.9 L134.6,331.5 L135.5,330.1 L136.5,328.8 L137.4,327.3 L138.3,325.9 L139.2,324.4 L140.0,322.9 L140.9,321.4 L141.8,319.9 L142.6,318.4 L143.3,316.9 L144.0,315.5 L144.7,314.0 L145.3,312.6 L145.9,311.3 L146.4,309.9 L146.9,308.6 L147.4,307.3 L147.8,306.0 L148.1,304.8 L148.4,303.5 L148.6,302.4 L148.9,301.2 L149.0,300.1 L149.1,298.9 L149.2,297.8 L149.2,296.7 L149.2,295.6 L149.2,294.5 L149.1,293.4 L149.0,292.2 L148.9,291.1 L148.7,290.0 L148.5,288.8 L148.2,287.7 L148.0,286.6 L147.7,285.5 L147.3,284.4 L147.0,283.2 L146.6,282.1 L146.1,281.0 L145.7,280.0 L145.2,278.9 L144.6,277.9 L144.0,276.9 L143.4,275.9 L142.7,274.9 L142.0,274.0 L141.2,273.0 L140.4,272.2 L139.6,271.4 L138.7,270.6 L137.8,269.9 L136.8,269.3 L135.8,268.7 L134.7,268.2 L133.5,267.7 L132.4,267.3Z M132.2,273.7 L133.0,274.1 L133.7,274.5 L134.3,274.9 L135.0,275.4 L135.6,275.9 L136.1,276.4 L136.7,277.0 L137.3,277.7 L137.9,278.5 L138.4,279.3 L138.9,280.1 L139.4,280.9 L139.8,281.7 L140.2,282.5 L140.6,283.3 L140.9,284.2 L141.3,285.2 L141.6,286.1 L141.9,287.1 L142.1,288.1 L142.4,289.0 L142.6,290.0 L142.8,291.0 L142.9,292.0 L143.0,292.9 L143.1,293.8 L143.2,294.8 L143.2,295.7 L143.2,296.6 L143.2,297.5 L143.1,298.5 L143.0,299.4 L142.9,300.3 L142.8,301.2 L142.5,302.2 L142.3,303.3 L142.0,304.3 L141.7,305.4 L141.3,306.6 L140.8,307.8 L140.4,309.0 L139.8,310.3 L139.3,311.5 L138.6,312.9 L138.0,314.2 L137.3,315.6 L136.5,317.0 L135.7,318.5 L134.9,319.9 L134.0,321.3 L133.2,322.7 L132.3,324.1 L131.4,325.5 L130.6,326.8 L129.7,328.1 L128.8,329.3 L127.9,330.5 L127.0,331.7 L126.0,332.9 L125.1,334.0 L124.1,335.1 L123.1,336.2 L122.1,337.3 L121.0,338.3 L119.9,339.4 L118.8,340.4 L117.7,341.4 L116.5,342.3 L115.4,343.3 L114.2,344.2 L113.0,345.1 L111.8,346.0 L110.6,346.7 L109.4,347.5 L108.2,348.2 L106.9,348.8 L105.7,349.5 L104.4,350.0 L103.1,350.6 L101.7,351.1 L100.2,351.6 L98.8,352.1 L97.3,352.6 L95.8,353.1 L94.4,353.5 L92.9,353.9 L91.5,354.3 L90.1,354.7 L88.6,355.0 L87.2,355.3 L85.7,355.6 L84.3,355.9 L82.8,356.1 L81.4,356.4 L80.0,356.6 L78.5,356.8 L77.0,356.9 L75.6,357.1 L74.2,357.2 L72.8,357.4 L71.4,357.5 L70.1,357.6 L68.8,357.7 L67.6,357.7 L66.7,357.7 L65.9,357.7 L65.1,357.6 L64.4,357.5 L63.7,357.4 L63.2,357.2 L62.6,357.0 L62.2,356.8 L61.9,356.6 L61.6,356.4 L61.3,356.1 L61.0,355.8 L60.6,355.3 L60.3,354.8 L59.9,354.2 L59.5,353.4 L59.2,352.6 L58.9,351.7 L58.6,350.8 L58.4,349.8 L58.2,348.8 L58.1,347.7 L58.0,346.5 L57.9,345.2 L57.9,343.9 L57.9,342.6 L58.0,341.3 L58.1,339.9 L58.2,338.6 L58.4,337.3 L58.6,336.1 L58.8,334.8 L59.1,333.6 L59.4,332.5 L59.8,331.3 L60.2,330.2 L60.7,329.1 L61.2,328.1 L61.7,327.0 L62.3,326.0 L63.0,324.9 L63.7,323.9 L64.5,322.8 L65.4,321.7 L66.4,320.5 L67.4,319.4 L68.6,318.3 L69.9,317.0 L71.3,315.7 L72.7,314.3 L74.1,313.0 L75.5,311.6 L77.0,310.2 L78.5,308.8 L79.9,307.4 L81.4,305.9 L81.5,305.9 L82.9,304.5 L83.0,304.5 L84.4,303.1 L84.4,303.1 L85.9,301.6 L85.9,301.6 L87.3,300.2 L87.4,300.2 L88.8,298.8 L88.8,298.8 L90.2,297.4 L90.2,297.4 L91.6,296.0 L91.6,296.0 L93.0,294.6 L93.0,294.6 L94.4,293.2 L94.4,293.2 L95.7,291.9 L95.7,291.9 L97.0,290.5 L97.0,290.5 L98.3,289.2 L98.3,289.2 L99.6,287.9 L99.6,287.9 L100.8,286.6 L100.9,286.6 L102.1,285.3 L102.1,285.3 L103.2,284.1 L104.3,283.0 L105.4,281.9 L106.5,280.8 L107.7,279.8 L108.9,278.7 L110.1,277.8 L111.3,276.8 L112.5,275.9 L113.6,275.1 L114.7,274.4 L115.7,273.8 L116.6,273.3 L117.5,272.8 L118.4,272.5 L119.1,272.2 L119.9,272.0 L120.7,271.8 L121.5,271.7 L122.3,271.6 L123.0,271.5 L123.6,271.5 L124.2,271.5 L124.8,271.5 L125.4,271.6 L126.1,271.7 L126.8,271.9 L127.6,272.1 L128.5,272.3 L129.4,272.6 L130.3,272.9 L131.3,273.3 L132.2,273.7Z " fill="url(#wtband)" fill-rule="evenodd" opacity="1" filter="url(#texb)"/>
<path d="M130.5,272.5 L129.5,272.1 L128.6,271.8 L127.8,271.6 L126.9,271.4 L126.2,271.2 L125.5,271.1 L124.8,271.0 L124.2,271.0 L123.6,271.0 L122.9,271.0 L122.2,271.1 L121.4,271.2 L120.6,271.3 L119.8,271.5 L119.0,271.7 L118.2,272.0 L117.3,272.4 L116.4,272.8 L115.4,273.3 L114.4,274.0 L113.3,274.7 L112.2,275.5 L111.0,276.4 L109.7,277.4 L108.5,278.4 L107.4,279.4 L106.2,280.4 L105.1,281.5 L103.9,282.6 L102.8,283.7 L101.7,284.9 L101.7,284.9 L100.5,286.2 L100.5,286.2 L99.2,287.5 L99.2,287.5 L98.0,288.8 L98.0,288.8 L96.7,290.2 L96.7,290.2 L95.4,291.5 L95.3,291.5 L94.0,292.9 L94.0,292.9 L92.7,294.2 L92.6,294.3 L91.3,295.6 L91.2,295.7 L89.9,297.0 L89.8,297.0 L88.4,298.4 L88.4,298.5 L87.0,299.9 L87.0,299.9 L85.6,301.3 L85.5,301.3 L84.1,302.7 L84.1,302.7 L82.6,304.1 L82.6,304.1 L81.1,305.6 L81.1,305.6 L79.6,307.0 L78.1,308.4 L76.6,309.9 L75.2,311.2 L73.7,312.6 L72.3,314.0 L70.9,315.3 L69.5,316.7 L68.2,317.9 L67.1,319.1 L66.0,320.2 L65.0,321.3 L64.1,322.5 L63.3,323.6 L62.5,324.6 L61.9,325.7 L61.3,326.8 L60.7,327.8 L60.2,328.9 L59.7,330.0 L59.3,331.2 L58.9,332.3 L58.6,333.5 L58.3,334.7 L58.1,336.0 L57.9,337.3 L57.7,338.6 L57.6,339.9 L57.5,341.2 L57.4,342.6 L57.4,343.9 L57.4,345.2 L57.5,346.5 L57.6,347.7 L57.7,348.9 L57.9,349.9 L58.1,350.9 L58.4,351.9 L58.7,352.8 L59.1,353.6 L59.5,354.4 L59.9,355.1 L60.2,355.6 L60.6,356.1 L61.0,356.5 L61.3,356.8 L61.7,357.0 L62.0,357.2 L62.5,357.4 L63.0,357.7 L63.6,357.8 L64.3,358.0 L65.0,358.1 L65.8,358.2 L66.7,358.2 L67.7,358.2 L68.8,358.2 L70.1,358.1 L71.5,358.0 L72.8,357.9 L74.2,357.7 L75.6,357.6 L77.1,357.4 L78.6,357.3 L80.0,357.1 L81.5,356.9 L82.9,356.6 L84.4,356.4 L85.8,356.1 L87.3,355.8 L88.7,355.5 L90.2,355.1 L91.6,354.8 L93.1,354.4 L94.5,354.0 L96.0,353.5 L97.5,353.1 L98.9,352.6 L100.4,352.1 L101.9,351.6 L103.3,351.0 L104.6,350.5 L105.9,349.9 L107.2,349.3 L108.4,348.6 L109.7,347.9 L110.9,347.2 L112.1,346.4 L113.3,345.5 L114.5,344.6 L115.7,343.7 L116.8,342.7 L118.0,341.8 L119.1,340.8 L120.2,339.7 L121.3,338.7 L122.4,337.6 L123.5,336.6 L124.5,335.5 L125.5,334.3 L126.4,333.2 L127.4,332.0 L128.3,330.8 L129.2,329.6 L130.1,328.4 L131.0,327.1 L131.9,325.7 L132.7,324.4 L133.6,323.0 L134.5,321.6 L135.3,320.2 L136.1,318.7 L136.9,317.3 L137.7,315.8 L138.4,314.5 L139.1,313.1 L139.7,311.8 L140.3,310.5 L140.8,309.2 L141.3,307.9 L141.7,306.7 L142.1,305.6 L142.5,304.5 L142.8,303.4 L143.0,302.3 L143.2,301.3 L143.4,300.4 L143.5,299.4 L143.6,298.5 L143.7,297.6 L143.7,296.6 L143.7,295.7 L143.7,294.7 L143.6,293.8 L143.5,292.8 L143.4,291.9 L143.3,290.9 L143.1,289.9 L142.9,288.9 L142.6,288.0 L142.4,287.0 L142.1,286.0 L141.7,285.0 L141.4,284.0 L141.0,283.1 L140.7,282.3 L140.3,281.4 L139.8,280.6 L139.4,279.8 L138.8,279.0 L138.3,278.2 L137.7,277.4 L137.1,276.7 L136.5,276.1 L135.9,275.5 L135.3,275.0 L134.6,274.5 L133.9,274.0 L133.2,273.6 L132.4,273.2 L131.5,272.8 L130.5,272.5Z M131.4,275.5 L132.0,275.8 L132.6,276.2 L133.2,276.5 L133.7,276.9 L134.2,277.3 L134.7,277.8 L135.2,278.3 L135.7,278.9 L136.2,279.7 L136.8,280.4 L137.2,281.1 L137.7,281.8 L138.0,282.6 L138.4,283.3 L138.7,284.1 L139.1,284.9 L139.4,285.8 L139.7,286.7 L140.0,287.7 L140.2,288.6 L140.4,289.5 L140.6,290.4 L140.8,291.3 L140.9,292.2 L141.1,293.1 L141.1,294.0 L141.2,294.9 L141.2,295.7 L141.2,296.6 L141.2,297.4 L141.1,298.3 L141.1,299.1 L140.9,300.0 L140.8,300.9 L140.6,301.8 L140.4,302.7 L140.1,303.8 L139.8,304.8 L139.4,305.9 L139.0,307.1 L138.5,308.2 L138.0,309.5 L137.4,310.7 L136.8,312.0 L136.2,313.3 L135.5,314.7 L134.7,316.1 L133.9,317.5 L133.1,318.9 L132.3,320.3 L131.5,321.7 L130.6,323.0 L129.8,324.4 L128.9,325.7 L128.0,326.9 L127.2,328.2 L126.3,329.3 L125.4,330.5 L124.5,331.6 L123.6,332.7 L122.6,333.8 L121.6,334.9 L120.6,335.9 L119.6,336.9 L118.5,337.9 L117.5,338.9 L116.4,339.9 L115.2,340.8 L114.1,341.7 L113.0,342.6 L111.8,343.5 L110.6,344.3 L109.5,345.1 L108.4,345.8 L107.2,346.4 L106.0,347.1 L104.8,347.6 L103.6,348.2 L102.3,348.7 L101.0,349.2 L99.5,349.7 L98.1,350.2 L96.7,350.7 L95.3,351.2 L93.8,351.6 L92.4,352.0 L91.0,352.4 L89.6,352.7 L88.2,353.0 L86.8,353.4 L85.3,353.6 L83.9,353.9 L82.5,354.2 L81.1,354.4 L79.7,354.6 L78.2,354.8 L76.8,354.9 L75.4,355.1 L74.0,355.3 L72.6,355.4 L71.3,355.5 L70.0,355.6 L68.7,355.7 L67.6,355.7 L66.7,355.7 L66.0,355.7 L65.3,355.6 L64.8,355.5 L64.3,355.4 L63.8,355.3 L63.4,355.1 L63.2,355.0 L63.0,354.9 L62.9,354.8 L62.7,354.7 L62.5,354.4 L62.2,354.1 L62.0,353.7 L61.7,353.2 L61.4,352.6 L61.1,351.9 L60.8,351.1 L60.6,350.3 L60.4,349.4 L60.2,348.5 L60.1,347.5 L60.0,346.4 L59.9,345.2 L59.9,343.9 L59.9,342.6 L60.0,341.4 L60.1,340.1 L60.2,338.9 L60.4,337.6 L60.6,336.4 L60.8,335.2 L61.0,334.1 L61.3,333.0 L61.7,332.0 L62.1,331.0 L62.5,329.9 L63.0,328.9 L63.5,328.0 L64.0,327.0 L64.6,326.0 L65.3,325.0 L66.1,324.0 L66.9,323.0 L67.9,321.9 L68.9,320.8 L70.0,319.7 L71.2,318.5 L72.6,317.1 L74.0,315.8 L75.5,314.4 L76.9,313.1 L78.4,311.7 L79.8,310.3 L81.3,308.8 L82.8,307.4 L82.8,307.4 L84.3,305.9 L84.3,305.9 L85.8,304.5 L85.8,304.5 L87.3,303.1 L87.3,303.1 L88.7,301.7 L88.8,301.6 L90.2,300.2 L90.2,300.2 L91.6,298.8 L91.6,298.8 L93.0,297.4 L93.0,297.4 L94.4,296.0 L94.4,296.0 L95.8,294.6 L95.8,294.6 L97.1,293.3 L97.2,293.3 L98.5,291.9 L98.5,291.9 L99.8,290.6 L99.8,290.6 L101.0,289.3 L101.1,289.2 L102.3,288.0 L102.3,287.9 L103.5,286.7 L103.5,286.6 L104.6,285.5 L105.7,284.4 L106.8,283.3 L107.9,282.3 L109.0,281.3 L110.2,280.3 L111.3,279.3 L112.5,278.4 L113.7,277.5 L114.7,276.7 L115.7,276.1 L116.7,275.5 L117.5,275.0 L118.3,274.7 L119.1,274.4 L119.7,274.1 L120.4,273.9 L121.2,273.8 L121.8,273.6 L122.5,273.5 L123.1,273.5 L123.6,273.5 L124.1,273.5 L124.6,273.5 L125.1,273.6 L125.7,273.7 L126.4,273.8 L127.1,274.0 L127.9,274.2 L128.7,274.5 L129.6,274.8 L130.6,275.2 L131.4,275.5Z " fill="#bcc4f0" fill-rule="evenodd" opacity="1" filter="url(#texl)"/>
<path d="M129.8,274.3 L128.9,274.0 L128.0,273.7 L127.2,273.5 L126.5,273.3 L125.8,273.2 L125.2,273.1 L124.6,273.0 L124.1,273.0 L123.6,273.0 L123.1,273.0 L122.4,273.0 L121.8,273.1 L121.0,273.3 L120.3,273.5 L119.6,273.7 L118.9,273.9 L118.1,274.2 L117.3,274.6 L116.4,275.1 L115.5,275.7 L114.4,276.3 L113.4,277.1 L112.2,278.0 L111.0,278.9 L109.8,279.9 L108.7,280.9 L107.5,281.9 L106.4,282.9 L105.4,284.0 L104.3,285.1 L103.2,286.3 L103.1,286.3 L101.9,287.6 L101.9,287.6 L100.7,288.9 L100.7,288.9 L99.4,290.2 L99.4,290.2 L98.1,291.6 L98.1,291.6 L96.8,292.9 L96.8,292.9 L95.4,294.3 L95.4,294.3 L94.1,295.7 L94.1,295.7 L92.7,297.1 L92.7,297.1 L91.3,298.5 L91.3,298.5 L89.8,299.9 L89.8,299.9 L88.4,301.3 L88.4,301.3 L86.9,302.7 L86.9,302.7 L85.5,304.1 L85.5,304.1 L84.0,305.6 L84.0,305.6 L82.5,307.0 L82.5,307.0 L81.0,308.5 L79.5,309.9 L78.0,311.3 L76.6,312.7 L75.1,314.1 L73.7,315.4 L72.3,316.8 L70.9,318.1 L69.6,319.3 L68.5,320.4 L67.5,321.5 L66.6,322.6 L65.7,323.7 L64.9,324.7 L64.2,325.7 L63.6,326.7 L63.0,327.7 L62.5,328.7 L62.0,329.7 L61.6,330.8 L61.2,331.8 L60.9,332.9 L60.6,334.0 L60.3,335.1 L60.1,336.3 L59.9,337.6 L59.7,338.8 L59.6,340.1 L59.5,341.3 L59.4,342.6 L59.4,343.9 L59.4,345.2 L59.5,346.4 L59.6,347.5 L59.7,348.5 L59.9,349.5 L60.1,350.4 L60.3,351.3 L60.6,352.1 L60.9,352.8 L61.2,353.5 L61.5,354.0 L61.8,354.4 L62.1,354.8 L62.3,355.0 L62.6,355.2 L62.8,355.4 L63.0,355.5 L63.2,355.6 L63.7,355.8 L64.1,355.9 L64.7,356.0 L65.3,356.1 L66.0,356.2 L66.7,356.2 L67.6,356.2 L68.7,356.2 L70.0,356.1 L71.3,356.0 L72.7,355.9 L74.0,355.7 L75.4,355.6 L76.9,355.4 L78.3,355.3 L79.8,355.1 L81.2,354.9 L82.6,354.7 L84.0,354.4 L85.4,354.1 L86.9,353.8 L88.3,353.5 L89.7,353.2 L91.1,352.8 L92.6,352.5 L94.0,352.1 L95.4,351.6 L96.8,351.2 L98.3,350.7 L99.7,350.2 L101.2,349.7 L102.5,349.2 L103.8,348.7 L105.0,348.1 L106.3,347.5 L107.5,346.9 L108.6,346.2 L109.8,345.5 L110.9,344.7 L112.1,343.9 L113.3,343.0 L114.4,342.1 L115.6,341.2 L116.7,340.2 L117.8,339.3 L118.9,338.3 L119.9,337.3 L121.0,336.2 L122.0,335.2 L123.0,334.1 L123.9,333.0 L124.9,331.9 L125.8,330.8 L126.7,329.6 L127.6,328.5 L128.4,327.2 L129.3,325.9 L130.2,324.6 L131.0,323.3 L131.9,322.0 L132.7,320.6 L133.6,319.2 L134.4,317.7 L135.2,316.3 L135.9,314.9 L136.6,313.6 L137.3,312.2 L137.9,310.9 L138.4,309.7 L139.0,308.4 L139.4,307.2 L139.9,306.1 L140.2,305.0 L140.6,303.9 L140.8,302.9 L141.1,301.9 L141.3,300.9 L141.4,300.0 L141.6,299.2 L141.6,298.3 L141.7,297.5 L141.7,296.6 L141.7,295.7 L141.7,294.8 L141.6,294.0 L141.5,293.1 L141.4,292.2 L141.3,291.2 L141.1,290.3 L140.9,289.4 L140.7,288.4 L140.4,287.5 L140.2,286.6 L139.9,285.7 L139.5,284.7 L139.2,283.9 L138.9,283.1 L138.5,282.3 L138.1,281.6 L137.6,280.8 L137.2,280.1 L136.7,279.4 L136.1,278.6 L135.6,278.0 L135.1,277.5 L134.6,277.0 L134.0,276.5 L133.5,276.1 L132.9,275.7 L132.3,275.4 L131.6,275.1 L130.7,274.7 L129.8,274.3Z M64.4,352.8 L64.3,352.7 L64.1,352.4 L63.9,352.1 L63.6,351.6 L63.4,351.0 L63.2,350.3 L63.0,349.7 L62.8,348.9 L62.7,348.1 L62.5,347.2 L62.5,346.2 L62.4,345.1 L62.4,343.9 L62.4,342.7 L62.5,341.5 L62.6,340.3 L62.7,339.2 L62.8,338.0 L63.0,336.8 L63.2,335.7 L63.5,334.7 L63.7,333.8 L64.0,332.8 L64.4,331.9 L64.8,330.9 L65.2,330.0 L65.7,329.1 L66.2,328.3 L66.7,327.4 L67.4,326.5 L68.1,325.5 L68.9,324.6 L69.7,323.6 L70.7,322.5 L71.7,321.5 L73.0,320.3 L74.4,318.9 L75.8,317.6 L77.2,316.2 L78.6,314.9 L80.1,313.5 L81.6,312.1 L83.1,310.6 L84.6,309.2 L84.6,309.2 L86.1,307.7 L86.1,307.7 L87.5,306.3 L87.6,306.3 L89.0,304.9 L89.0,304.8 L90.5,303.4 L90.5,303.4 L91.9,302.0 L92.0,302.0 L93.4,300.6 L93.4,300.6 L94.8,299.2 L94.8,299.2 L96.2,297.8 L96.2,297.8 L97.6,296.4 L97.6,296.4 L98.9,295.0 L98.9,295.0 L100.2,293.7 L100.3,293.6 L101.5,292.3 L101.6,292.3 L102.8,291.0 L102.9,291.0 L104.1,289.7 L104.1,289.6 L105.3,288.4 L105.4,288.3 L106.4,287.2 L107.5,286.1 L108.5,285.1 L109.6,284.1 L110.7,283.1 L111.8,282.2 L112.9,281.3 L114.0,280.3 L115.1,279.5 L116.1,278.8 L117.1,278.2 L117.9,277.7 L118.7,277.3 L119.4,276.9 L120.0,276.7 L120.5,276.5 L121.0,276.4 L121.7,276.2 L122.3,276.1 L122.8,276.0 L123.3,276.0 L123.7,276.0 L124.0,276.0 L124.3,276.0 L124.7,276.0 L125.2,276.1 L125.8,276.2 L126.5,276.4 L127.2,276.6 L127.9,276.9 L128.8,277.1 L129.6,277.5 L130.4,277.8 L130.9,278.0 L131.3,278.3 L131.8,278.6 L132.2,278.9 L132.6,279.2 L132.9,279.6 L133.3,280.0 L133.7,280.5 L134.2,281.1 L134.7,281.8 L135.1,282.4 L135.5,283.1 L135.8,283.7 L136.1,284.4 L136.4,285.0 L136.7,285.8 L137.0,286.6 L137.3,287.5 L137.6,288.3 L137.8,289.2 L138.0,290.0 L138.2,290.9 L138.3,291.8 L138.5,292.6 L138.6,293.4 L138.6,294.2 L138.7,295.0 L138.7,295.8 L138.7,296.5 L138.7,297.3 L138.6,298.1 L138.6,298.8 L138.5,299.6 L138.3,300.4 L138.2,301.2 L137.9,302.1 L137.7,303.1 L137.4,304.0 L137.0,305.1 L136.6,306.2 L136.2,307.3 L135.7,308.5 L135.2,309.7 L134.6,310.9 L133.9,312.2 L133.3,313.5 L132.5,314.9 L131.8,316.3 L131.0,317.7 L130.2,319.0 L129.3,320.4 L128.5,321.7 L127.7,323.0 L126.8,324.3 L126.0,325.5 L125.1,326.7 L124.3,327.8 L123.5,328.9 L122.6,330.0 L121.7,331.1 L120.8,332.1 L119.8,333.1 L118.9,334.1 L117.9,335.1 L116.8,336.1 L115.8,337.0 L114.7,338.0 L113.7,338.9 L112.6,339.8 L111.4,340.6 L110.3,341.5 L109.2,342.2 L108.2,342.9 L107.1,343.6 L106.0,344.2 L104.9,344.8 L103.8,345.4 L102.6,345.9 L101.4,346.4 L100.1,346.9 L98.7,347.4 L97.3,347.9 L95.9,348.3 L94.5,348.8 L93.1,349.2 L91.8,349.6 L90.4,349.9 L89.0,350.3 L87.6,350.6 L86.2,350.9 L84.9,351.2 L83.5,351.5 L82.1,351.7 L80.7,351.9 L79.4,352.1 L77.9,352.3 L76.5,352.5 L75.1,352.6 L73.7,352.8 L72.4,352.9 L71.1,353.0 L69.8,353.1 L68.5,353.2 L67.5,353.2 L66.8,353.2 L66.2,353.2 L65.7,353.2 L65.2,353.1 L64.9,353.0 L64.6,352.9 L64.4,352.8 L64.4,352.8 L64.4,352.8Z " fill="#f7eaf2" fill-rule="evenodd" opacity="1" filter="url(#texl)"/>
<path d="M64.1,353.3 L64.2,353.3 L64.5,353.4 L64.8,353.5 L65.2,353.6 L65.6,353.7 L66.2,353.7 L66.8,353.7 L67.5,353.7 L68.5,353.7 L69.8,353.6 L71.1,353.5 L72.4,353.4 L73.8,353.3 L75.2,353.1 L76.6,353.0 L78.0,352.8 L79.4,352.6 L80.8,352.4 L82.2,352.2 L83.6,351.9 L85.0,351.7 L86.3,351.4 L87.7,351.1 L89.1,350.8 L90.5,350.4 L91.9,350.1 L93.3,349.7 L94.7,349.2 L96.1,348.8 L97.5,348.3 L98.9,347.9 L100.3,347.4 L101.6,346.9 L102.8,346.4 L104.0,345.8 L105.1,345.3 L106.2,344.7 L107.4,344.0 L108.4,343.4 L109.5,342.7 L110.6,341.9 L111.7,341.0 L112.9,340.2 L114.0,339.3 L115.1,338.3 L116.1,337.4 L117.2,336.5 L118.2,335.5 L119.2,334.5 L120.2,333.5 L121.1,332.5 L122.1,331.4 L123.0,330.3 L123.8,329.2 L124.7,328.1 L125.5,327.0 L126.4,325.8 L127.3,324.5 L128.1,323.3 L128.9,322.0 L129.8,320.6 L130.6,319.3 L131.4,317.9 L132.2,316.5 L133.0,315.1 L133.7,313.8 L134.4,312.4 L135.0,311.1 L135.6,309.9 L136.2,308.7 L136.6,307.5 L137.1,306.3 L137.5,305.2 L137.9,304.2 L138.2,303.2 L138.4,302.2 L138.6,301.3 L138.8,300.5 L139.0,299.7 L139.1,298.9 L139.1,298.1 L139.2,297.3 L139.2,296.6 L139.2,295.8 L139.2,295.0 L139.1,294.2 L139.1,293.3 L139.0,292.5 L138.8,291.7 L138.7,290.8 L138.5,289.9 L138.3,289.1 L138.0,288.2 L137.8,287.3 L137.5,286.5 L137.2,285.6 L136.9,284.8 L136.6,284.1 L136.3,283.5 L135.9,282.8 L135.5,282.1 L135.1,281.5 L134.6,280.8 L134.1,280.2 L133.7,279.6 L133.3,279.2 L132.9,278.8 L132.5,278.5 L132.1,278.2 L131.6,277.9 L131.1,277.6 L130.6,277.3 L129.8,277.0 L128.9,276.7 L128.1,276.4 L127.3,276.1 L126.6,275.9 L125.9,275.8 L125.3,275.6 L124.8,275.5 L124.4,275.5 L124.0,275.5 L123.7,275.5 L123.2,275.5 L122.7,275.5 L122.2,275.6 L121.6,275.7 L120.9,275.9 L120.3,276.0 L119.8,276.2 L119.2,276.5 L118.4,276.8 L117.7,277.3 L116.8,277.8 L115.8,278.4 L114.8,279.1 L113.7,279.9 L112.6,280.9 L111.4,281.8 L110.3,282.8 L109.2,283.7 L108.2,284.8 L107.1,285.8 L106.1,286.8 L105.0,288.0 L105.0,288.0 L103.8,289.3 L103.7,289.3 L102.5,290.6 L102.5,290.7 L101.2,291.9 L101.2,292.0 L99.9,293.3 L99.9,293.3 L98.6,294.7 L98.6,294.7 L97.2,296.0 L97.2,296.1 L95.8,297.4 L95.8,297.4 L94.4,298.8 L94.4,298.8 L93.0,300.2 L93.0,300.2 L91.6,301.6 L91.6,301.7 L90.2,303.1 L90.1,303.1 L88.7,304.5 L88.7,304.5 L87.2,305.9 L87.2,305.9 L85.7,307.4 L85.7,307.4 L84.2,308.8 L84.2,308.8 L82.7,310.3 L81.2,311.7 L79.7,313.1 L78.3,314.5 L76.9,315.9 L75.4,317.2 L74.0,318.6 L72.6,319.9 L71.4,321.1 L70.3,322.2 L69.4,323.2 L68.5,324.2 L67.7,325.2 L66.9,326.2 L66.3,327.1 L65.7,328.0 L65.2,328.9 L64.8,329.8 L64.3,330.7 L63.9,331.7 L63.6,332.6 L63.3,333.6 L63.0,334.6 L62.7,335.6 L62.5,336.8 L62.3,337.9 L62.2,339.1 L62.1,340.3 L62.0,341.5 L61.9,342.7 L61.9,343.9 L61.9,345.1 L62.0,346.3 L62.0,347.2 L62.2,348.2 L62.3,349.0 L62.5,349.8 L62.7,350.5 L62.9,351.2 L63.2,351.8 L63.4,352.3 L63.7,352.7 L63.9,352.9 L64.0,353.1 L64.1,353.2 L64.1,353.3 L64.1,353.3Z " fill="url(#wtlum)" opacity="1" filter="url(#texd)"/>
<path d="M121.6,290.5 L133.0,290.3 L138.6,296.2 L140.3,304.3 L137.0,315.7 L130.5,326.2 L124.0,331.5 L118.4,335.6 L112.0,340.8 L105.5,346.0 L100.3,349.9 L97.0,347.3 L94.0,347.9 L91.2,352.5 L85.3,357.0 L80.8,360.3 L76.9,357.0 L74.5,353.1 L75.6,350.5 L82.1,346.0 L84.7,342.1 L86.0,336.9 L87.9,331.7 L90.5,327.1 L99.0,320.5 L107.8,312.4 L113.5,301.0 L118.4,293.0Z" fill="#df74df" filter="url(#texp)"/>
<path d="M91,351 L94,348.5 L97,348 L100,350.5 L97,353 L92,353.5 Z" fill="#ea5a90" filter="url(#blur1)"/>
<path d="M121.6,290.5 L133.0,290.3 L138.6,296.2 L140.3,304.3 L137.0,315.7 L130.5,326.2 L124.0,331.5 L118.4,335.6 L112.0,340.8 L105.5,346.0 L100.3,349.9 L97.0,347.3 L94.0,347.9 L91.2,352.5 L85.3,357.0 L80.8,360.3 L76.9,357.0 L74.5,353.1 L75.6,350.5 L82.1,346.0 L84.7,342.1 L86.0,336.9 L87.9,331.7 L90.5,327.1 L99.0,320.5 L107.8,312.4 L113.5,301.0 L118.4,293.0Z" fill="none" stroke="#2a0a2a" stroke-width="1.1" stroke-linejoin="round"/>
<text x="117.4" y="318.4" font-family="Liberation Serif, serif" font-weight="bold" font-size="12" text-anchor="middle" fill="#1a0a1a">PT</text>
<path d="M77.5,282.5 Q75.5,286 77.5,289 Q79.5,291.5 82,290.5" fill="none" stroke="#c4cce6" stroke-width="1.1" filter="url(#blur1)"/>
<path d="M227.4,265.2 L227.4,265.2 L225.8,265.2 L225.7,265.2 L224.1,265.3 L224.0,265.3 L222.4,265.5 L222.3,265.5 L220.7,265.8 L220.6,265.8 L218.9,266.2 L218.9,266.2 L217.2,266.7 L217.1,266.7 L215.4,267.3 L215.3,267.3 L213.6,268.0 L213.6,268.0 L211.9,268.8 L211.9,268.8 L210.3,269.7 L210.2,269.7 L208.7,270.7 L208.6,270.7 L207.1,271.8 L207.1,271.8 L205.6,273.0 L205.6,273.0 L204.2,274.3 L204.2,274.3 L202.8,275.7 L202.8,275.7 L201.5,277.1 L201.4,277.2 L200.2,278.7 L200.2,278.7 L198.9,280.3 L198.9,280.3 L197.8,281.9 L197.7,282.0 L196.6,283.7 L196.6,283.7 L195.6,285.5 L195.5,285.5 L194.5,287.4 L194.5,287.4 L193.6,289.4 L193.5,289.4 L192.7,291.3 L192.6,291.3 L191.8,293.3 L191.8,293.3 L191.1,295.2 L191.1,295.3 L190.4,297.2 L190.4,297.2 L189.8,299.2 L189.8,299.2 L189.2,301.1 L189.2,301.2 L188.8,303.1 L188.8,303.1 L188.4,305.1 L188.4,305.1 L188.0,307.0 L188.0,307.0 L187.8,309.0 L187.8,309.0 L187.5,311.0 L187.5,311.0 L187.4,312.9 L187.4,312.9 L187.3,314.9 L187.3,314.9 L187.2,316.9 L187.2,316.9 L187.3,318.8 L187.3,318.9 L187.3,320.8 L187.3,320.8 L187.5,322.8 L187.5,322.8 L187.7,324.7 L187.7,324.8 L187.9,326.7 L187.9,326.7 L188.2,328.7 L188.2,328.7 L188.5,330.6 L188.5,330.7 L188.9,332.6 L188.9,332.6 L189.4,334.6 L189.4,334.6 L189.9,336.5 L189.9,336.5 L190.4,338.4 L190.5,338.4 L191.1,340.2 L191.1,340.3 L191.8,342.0 L191.8,342.0 L192.5,343.7 L192.5,343.7 L193.3,345.3 L193.3,345.3 L194.2,346.8 L194.2,346.9 L195.1,348.3 L195.2,348.3 L196.1,349.7 L196.2,349.7 L197.2,351.0 L197.2,351.0 L198.3,352.3 L198.3,352.3 L199.4,353.4 L199.5,353.5 L200.6,354.5 L200.7,354.6 L201.9,355.6 L201.9,355.6 L203.2,356.5 L203.2,356.5 L204.5,357.4 L204.6,357.4 L205.9,358.2 L206.0,358.2 L207.4,358.9 L207.4,358.9 L208.8,359.5 L208.9,359.5 L210.3,360.0 L210.4,360.0 L211.8,360.4 L211.9,360.4 L213.3,360.7 L213.4,360.7 L214.9,360.9 L214.9,360.9 L216.5,361.0 L216.5,361.0 L218.1,361.0 L218.1,361.0 L219.6,360.9 L219.7,360.9 L221.2,360.8 L221.2,360.8 L222.7,360.6 L222.7,360.5 L224.2,360.2 L224.2,360.2 L225.7,359.9 L225.7,359.9 L227.1,359.4 L227.2,359.4 L228.5,358.9 L228.6,358.9 L229.9,358.3 L230.0,358.3 L231.3,357.6 L231.4,357.6 L232.6,356.8 L232.7,356.7 L233.9,355.9 L233.9,355.8 L235.1,354.9 L235.1,354.8 L236.2,353.8 L236.3,353.7 L237.3,352.6 L237.4,352.5 L238.4,351.3 L238.4,351.2 L239.4,349.9 L239.4,349.9 L240.3,348.5 L240.3,348.4 L241.1,347.0 L241.2,346.9 L241.9,345.4 L241.9,345.4 L242.6,343.8 L242.6,343.8 L243.2,342.2 L243.2,342.2 L243.8,340.5 L243.8,340.5 L244.2,338.8 L244.2,338.7 L244.6,337.0 L244.6,337.0 L245.0,335.2 L245.0,335.2 L245.3,333.4 L245.3,333.4 L245.7,331.6 L245.7,331.6 L245.9,329.7 L246.0,329.7 L246.2,327.8 L246.2,327.8 L246.5,325.9 L246.5,325.9 L246.7,324.0 L246.7,324.0 L246.9,322.1 L246.9,322.1 L247.1,320.1 L247.1,320.1 L247.3,318.2 L247.3,318.2 L247.4,316.2 L247.4,316.2 L247.5,314.3 L247.5,314.3 L247.7,312.3 L247.7,312.3 L247.8,310.4 L247.8,310.4 L247.9,308.4 L247.9,308.4 L247.9,306.5 L247.9,306.4 L248.0,304.5 L248.0,304.5 L248.0,302.7 L248.0,302.7 L247.9,300.9 L247.9,300.8 L247.8,299.1 L247.8,299.1 L247.7,297.4 L247.7,297.3 L247.5,295.7 L247.5,295.7 L247.2,294.1 L247.2,294.0 L247.0,292.5 L246.7,290.9 L246.4,289.4 L246.2,287.9 L246.0,286.3 L245.7,284.8 L245.5,283.2 L245.3,281.7 L245.2,280.1 L245.1,280.1 L244.9,278.6 L244.8,278.5 L244.5,277.1 L244.4,277.1 L244.0,275.7 L243.9,275.7 L243.3,274.4 L243.3,274.3 L242.6,273.2 L242.6,273.1 L241.8,272.0 L241.8,271.9 L240.9,270.9 L240.9,270.8 L239.9,269.8 L239.8,269.8 L238.8,268.9 L238.7,268.9 L237.6,268.1 L237.5,268.1 L236.4,267.4 L236.3,267.3 L235.0,266.8 L235.0,266.7 L233.6,266.2 L233.6,266.2 L232.2,265.8 L232.1,265.8 L230.6,265.5 L230.6,265.5 L229.0,265.3 L229.0,265.3 L227.4,265.2Z M230.2,267.8 L231.6,268.1 L232.9,268.4 L234.1,268.9 L235.3,269.4 L236.3,270.0 L237.4,270.7 L238.3,271.5 L239.2,272.4 L240.0,273.3 L240.7,274.4 L241.3,275.4 L241.8,276.6 L242.3,277.8 L242.6,279.1 L242.9,280.5 L243.1,282.0 L243.1,282.0 L243.3,283.5 L243.3,283.5 L243.5,285.1 L243.5,285.1 L243.7,286.6 L243.7,286.6 L243.9,288.2 L243.9,288.2 L244.2,289.8 L244.2,289.8 L244.4,291.3 L244.4,291.3 L244.7,292.9 L244.7,292.9 L245.0,294.4 L245.2,296.0 L245.4,297.6 L245.5,299.2 L245.6,300.9 L245.7,302.7 L245.7,304.5 L245.6,306.4 L245.6,308.3 L245.5,310.2 L245.4,312.2 L245.2,314.1 L245.1,316.0 L245.0,318.0 L244.8,319.9 L244.6,321.8 L244.4,323.8 L244.2,325.6 L243.9,327.5 L243.7,329.4 L243.4,331.2 L243.1,333.0 L242.7,334.8 L242.4,336.5 L242.0,338.2 L241.6,339.8 L241.0,341.4 L240.5,343.0 L239.8,344.4 L239.1,345.9 L238.3,347.3 L237.5,348.6 L236.6,349.9 L235.6,351.1 L234.6,352.1 L233.6,353.1 L232.5,354.0 L231.4,354.8 L230.2,355.6 L229.0,356.2 L227.7,356.8 L226.4,357.2 L225.1,357.7 L223.7,358.0 L222.3,358.3 L220.9,358.5 L219.5,358.6 L218.0,358.7 L216.6,358.7 L215.1,358.6 L213.7,358.4 L212.4,358.2 L211.0,357.8 L209.7,357.3 L208.3,356.8 L207.0,356.2 L205.7,355.4 L204.5,354.6 L203.3,353.8 L202.2,352.8 L201.0,351.8 L200.0,350.7 L199.0,349.6 L198.0,348.3 L197.1,347.0 L196.2,345.7 L195.4,344.2 L194.6,342.7 L193.9,341.1 L193.2,339.5 L192.6,337.7 L192.1,335.9 L191.6,334.0 L191.2,332.1 L190.8,330.2 L190.4,328.3 L190.2,326.4 L189.9,324.5 L189.8,322.6 L189.6,320.7 L189.6,318.8 L189.5,316.9 L189.6,315.0 L189.7,313.1 L189.8,311.2 L190.0,309.3 L190.3,307.4 L190.6,305.5 L191.0,303.6 L191.5,301.7 L192.0,299.8 L192.6,297.9 L193.2,296.0 L194.0,294.2 L194.8,292.3 L195.6,290.4 L196.6,288.5 L197.5,286.7 L198.6,284.9 L199.7,283.2 L200.8,281.6 L202.0,280.1 L203.2,278.7 L204.5,277.3 L205.8,276.0 L207.1,274.7 L208.5,273.6 L209.9,272.6 L211.4,271.7 L213.0,270.8 L214.5,270.1 L216.1,269.5 L217.8,268.9 L219.5,268.4 L221.1,268.0 L222.7,267.8 L224.3,267.6 L225.8,267.5 L227.3,267.5 L228.8,267.6 L230.2,267.8Z " fill="#a8a4e6" fill-rule="evenodd" filter="url(#texl)"/>
<path d="M227.3,267.2 L225.8,267.2 L224.2,267.3 L222.6,267.5 L221.0,267.8 L219.4,268.1 L217.7,268.6 L216.0,269.2 L214.4,269.8 L212.8,270.6 L211.3,271.4 L209.8,272.4 L208.3,273.4 L206.9,274.5 L205.6,275.7 L204.2,277.1 L203.0,278.5 L201.7,279.9 L200.5,281.5 L199.4,283.1 L198.3,284.8 L197.3,286.5 L196.3,288.3 L195.4,290.2 L194.5,292.1 L193.7,294.0 L192.9,295.9 L192.3,297.8 L191.7,299.7 L191.2,301.6 L190.7,303.5 L190.3,305.4 L190.0,307.3 L189.7,309.2 L189.5,311.2 L189.4,313.1 L189.3,315.0 L189.2,316.9 L189.3,318.8 L189.3,320.7 L189.5,322.6 L189.6,324.5 L189.9,326.5 L190.2,328.4 L190.5,330.3 L190.9,332.2 L191.3,334.1 L191.8,336.0 L192.4,337.8 L193.0,339.6 L193.6,341.2 L194.3,342.8 L195.1,344.4 L195.9,345.8 L196.8,347.2 L197.7,348.5 L198.7,349.7 L199.8,350.9 L200.8,352.0 L202.0,353.0 L203.1,354.0 L204.3,354.9 L205.6,355.7 L206.9,356.4 L208.2,357.1 L209.5,357.6 L210.9,358.1 L212.3,358.4 L213.7,358.7 L215.1,358.9 L216.6,359.0 L218.0,359.0 L219.5,358.9 L221.0,358.8 L222.4,358.6 L223.8,358.3 L225.1,357.9 L226.5,357.5 L227.8,357.0 L229.1,356.5 L230.4,355.8 L231.5,355.1 L232.7,354.3 L233.8,353.4 L234.8,352.3 L235.8,351.2 L236.8,350.0 L237.7,348.8 L238.6,347.4 L239.4,346.0 L240.1,344.6 L240.8,343.1 L241.3,341.5 L241.8,339.9 L242.3,338.3 L242.7,336.6 L243.0,334.8 L243.4,333.0 L243.7,331.2 L244.0,329.4 L244.2,327.6 L244.5,325.7 L244.7,323.8 L244.9,321.9 L245.1,319.9 L245.3,318.0 L245.4,316.1 L245.5,314.1 L245.7,312.2 L245.8,310.3 L245.9,308.3 L245.9,306.4 L246.0,304.5 L246.0,302.7 L245.9,300.9 L245.8,299.2 L245.7,297.5 L245.5,295.9 L245.3,294.4 L245.0,292.8 L245.0,292.8 L244.7,291.3 L244.7,291.3 L244.5,289.7 L244.5,289.7 L244.2,288.2 L244.2,288.2 L244.0,286.6 L244.0,286.6 L243.8,285.0 L243.8,285.0 L243.6,283.5 L243.6,283.5 L243.4,281.9 L243.4,281.9 L243.2,280.4 L242.9,279.0 L242.5,277.7 L242.1,276.5 L241.6,275.3 L240.9,274.2 L240.2,273.2 L239.4,272.2 L238.5,271.3 L237.5,270.5 L236.5,269.8 L235.4,269.1 L234.2,268.6 L233.0,268.1 L231.7,267.8 L230.3,267.5 L228.8,267.3 L227.3,267.2Z M229.8,270.4 L231.0,270.7 L232.1,271.0 L233.1,271.4 L234.0,271.8 L234.9,272.3 L235.7,272.9 L236.5,273.5 L237.2,274.2 L237.8,275.0 L238.4,275.8 L238.9,276.7 L239.3,277.6 L239.7,278.6 L240.0,279.7 L240.2,280.9 L240.4,282.3 L240.4,282.3 L240.6,283.9 L240.6,283.9 L240.8,285.4 L240.8,285.5 L241.0,287.0 L241.0,287.0 L241.2,288.6 L241.3,288.6 L241.5,290.2 L241.5,290.2 L241.8,291.8 L241.8,291.8 L242.0,293.3 L242.0,293.4 L242.3,294.8 L242.5,296.3 L242.7,297.8 L242.8,299.4 L242.9,301.1 L243.0,302.8 L243.0,304.5 L242.9,306.3 L242.9,308.2 L242.8,310.1 L242.7,312.0 L242.6,313.9 L242.4,315.8 L242.3,317.8 L242.1,319.7 L241.9,321.6 L241.7,323.5 L241.5,325.3 L241.3,327.2 L241.0,329.0 L240.7,330.7 L240.4,332.5 L240.1,334.2 L239.7,335.9 L239.4,337.6 L239.0,339.1 L238.5,340.5 L238.0,341.9 L237.4,343.3 L236.7,344.6 L236.0,345.9 L235.2,347.1 L234.4,348.2 L233.6,349.3 L232.7,350.2 L231.8,351.1 L230.8,351.9 L229.9,352.6 L228.9,353.2 L227.8,353.8 L226.7,354.2 L225.5,354.7 L224.3,355.1 L223.1,355.4 L221.9,355.6 L220.6,355.8 L219.3,355.9 L218.0,356.0 L216.7,356.0 L215.4,355.9 L214.2,355.8 L213.0,355.5 L211.8,355.2 L210.6,354.8 L209.4,354.3 L208.3,353.8 L207.1,353.1 L206.0,352.4 L205.0,351.6 L203.9,350.8 L202.9,349.9 L202.0,348.9 L201.0,347.8 L200.1,346.7 L199.3,345.5 L198.5,344.3 L197.7,342.9 L197.0,341.5 L196.4,340.1 L195.8,338.5 L195.2,336.9 L194.7,335.2 L194.2,333.4 L193.8,331.6 L193.4,329.7 L193.1,327.9 L192.8,326.1 L192.6,324.2 L192.5,322.4 L192.3,320.6 L192.3,318.7 L192.2,316.9 L192.3,315.1 L192.4,313.3 L192.5,311.4 L192.7,309.6 L193.0,307.8 L193.3,306.0 L193.6,304.2 L194.1,302.4 L194.6,300.6 L195.1,298.8 L195.8,297.0 L196.5,295.2 L197.2,293.4 L198.1,291.5 L199.0,289.7 L199.9,288.0 L200.9,286.3 L201.9,284.8 L203.0,283.2 L204.1,281.8 L205.2,280.4 L206.4,279.1 L207.6,277.9 L208.9,276.8 L210.1,275.8 L211.4,274.9 L212.8,274.0 L214.2,273.3 L215.6,272.6 L217.1,272.0 L218.6,271.5 L220.1,271.0 L221.6,270.7 L223.1,270.4 L224.5,270.3 L225.9,270.2 L227.2,270.2 L228.5,270.3 L229.8,270.4Z " fill="url(#clband)" fill-rule="evenodd" filter="url(#texc)"/>
<path d="M227.2,270.2 L225.9,270.2 L224.5,270.3 L223.1,270.4 L221.6,270.7 L220.1,271.0 L218.6,271.5 L217.1,272.0 L215.6,272.6 L214.2,273.3 L212.8,274.0 L211.4,274.9 L210.1,275.8 L208.9,276.8 L207.6,277.9 L206.4,279.1 L205.2,280.4 L204.1,281.8 L203.0,283.2 L201.9,284.8 L200.9,286.3 L199.9,288.0 L199.0,289.7 L198.1,291.5 L197.2,293.4 L196.5,295.2 L195.8,297.0 L195.1,298.8 L194.6,300.6 L194.1,302.4 L193.6,304.2 L193.3,306.0 L193.0,307.8 L192.7,309.6 L192.5,311.4 L192.4,313.3 L192.3,315.1 L192.2,316.9 L192.3,318.7 L192.3,320.6 L192.5,322.4 L192.6,324.2 L192.8,326.1 L193.1,327.9 L193.4,329.7 L193.8,331.6 L194.2,333.4 L194.7,335.2 L195.2,336.9 L195.8,338.5 L196.4,340.1 L197.0,341.5 L197.7,342.9 L198.5,344.3 L199.3,345.5 L200.1,346.7 L201.0,347.8 L202.0,348.9 L202.9,349.9 L203.9,350.8 L205.0,351.6 L206.0,352.4 L207.1,353.1 L208.3,353.8 L209.4,354.3 L210.6,354.8 L211.8,355.2 L213.0,355.5 L214.2,355.8 L215.4,355.9 L216.7,356.0 L218.0,356.0 L219.3,355.9 L220.6,355.8 L221.9,355.6 L223.1,355.4 L224.3,355.1 L225.5,354.7 L226.7,354.2 L227.8,353.8 L228.9,353.2 L229.9,352.6 L230.8,351.9 L231.8,351.1 L232.7,350.2 L233.6,349.3 L234.4,348.2 L235.2,347.1 L236.0,345.9 L236.7,344.6 L237.4,343.3 L238.0,341.9 L238.5,340.5 L239.0,339.1 L239.4,337.6 L239.7,335.9 L240.1,334.2 L240.4,332.5 L240.7,330.7 L241.0,329.0 L241.3,327.2 L241.5,325.3 L241.7,323.5 L241.9,321.6 L242.1,319.7 L242.3,317.8 L242.4,315.8 L242.6,313.9 L242.7,312.0 L242.8,310.1 L242.9,308.2 L242.9,306.3 L243.0,304.5 L243.0,302.8 L242.9,301.1 L242.8,299.4 L242.7,297.8 L242.5,296.3 L242.3,294.8 L242.0,293.4 L242.0,293.3 L241.8,291.8 L241.8,291.8 L241.5,290.2 L241.5,290.2 L241.3,288.7 L241.4,290.4 L241.6,292.2 L241.7,294.1 L241.7,296.1 L241.7,298.1 L241.7,300.2 L241.6,302.4 L241.4,304.7 L241.2,307.0 L241.0,309.3 L240.8,311.5 L240.6,313.7 L240.3,315.9 L240.1,318.0 L239.9,320.0 L239.6,322.0 L239.4,323.9 L239.1,325.8 L238.8,327.6 L238.5,329.4 L238.1,331.2 L237.7,332.9 L237.3,334.5 L236.9,336.1 L236.5,337.7 L236.0,339.2 L235.4,340.6 L234.8,341.9 L234.2,343.2 L233.5,344.3 L232.8,345.5 L232.0,346.5 L231.1,347.5 L230.2,348.4 L229.3,349.2 L228.2,349.9 L227.1,350.5 L226.0,351.0 L224.7,351.5 L223.4,351.9 L222.1,352.1 L220.7,352.3 L219.3,352.4 L218.0,352.4 L216.6,352.3 L215.3,352.1 L213.9,351.8 L212.5,351.4 L211.2,351.0 L209.9,350.4 L208.6,349.8 L207.4,349.0 L206.2,348.2 L205.1,347.3 L204.0,346.3 L203.0,345.2 L202.0,344.1 L201.1,342.9 L200.3,341.6 L199.5,340.3 L198.8,338.9 L198.2,337.5 L197.7,336.1 L197.2,334.6 L196.9,333.0 L196.5,331.4 L196.2,329.8 L195.9,328.1 L195.7,326.3 L195.5,324.5 L195.4,322.7 L195.2,320.8 L195.2,318.8 L195.1,316.9 L195.1,314.9 L195.2,313.0 L195.3,311.0 L195.4,309.1 L195.6,307.2 L195.9,305.2 L196.1,303.3 L196.5,301.4 L196.9,299.6 L197.3,297.8 L197.9,296.0 L198.4,294.3 L199.1,292.7 L199.8,291.1 L200.6,289.5 L201.4,288.0 L202.3,286.6 L203.2,285.3 L204.2,284.0 L205.2,282.9 L206.3,281.7 L207.4,280.7 L208.5,279.7 L209.7,278.8 L210.9,278.0 L212.2,277.2 L213.4,276.5 L214.7,275.9 L216.0,275.4 L217.4,274.9 L218.7,274.6 L220.1,274.2 L221.5,274.0 L222.8,273.8 L224.2,273.7 L225.5,273.7 L226.9,273.8 L228.3,273.9 L229.6,274.1 L230.9,274.4 L232.1,274.8 L233.3,275.3 L234.3,275.9 L235.3,276.5 L236.3,277.3 L237.1,278.2 L237.9,279.1 L238.6,280.2 L239.2,281.4 L239.8,282.6 L240.3,284.0 L240.7,285.4 L241.0,287.0 L241.2,288.3 L241.0,287.0 L241.0,287.0 L240.8,285.5 L240.8,285.4 L240.6,283.9 L240.6,283.9 L240.4,282.3 L240.4,282.3 L240.2,280.9 L240.0,279.7 L239.7,278.6 L239.3,277.6 L238.9,276.7 L238.4,275.8 L237.8,275.0 L237.2,274.2 L236.5,273.5 L235.7,272.9 L234.9,272.3 L234.0,271.8 L233.1,271.4 L232.1,271.0 L231.0,270.7 L229.8,270.4 L228.5,270.3 L227.2,270.2Z " fill="#e4b0e4" fill-rule="evenodd" filter="url(#texl)"/>
<path d="M228.3,273.9 L229.6,274.1 L230.9,274.4 L232.1,274.8 L233.3,275.3 L234.3,275.9 L235.3,276.5 L236.3,277.3 L237.1,278.2 L237.9,279.1 L238.6,280.2 L239.2,281.4 L239.8,282.6 L240.3,284.0 L240.7,285.4 L241.0,287.0 L241.3,288.6 L241.4,290.4 L241.6,292.2 L241.7,294.1 L241.7,296.1 L241.7,298.1 L241.7,300.2 L241.6,302.4 L241.4,304.7 L241.2,307.0 L241.0,309.3 L240.8,311.5 L240.6,313.7 L240.3,315.9 L240.1,318.0 L239.9,320.0 L239.6,322.0 L239.4,323.9 L239.1,325.8 L238.8,327.6 L238.5,329.4 L238.1,331.2 L237.7,332.9 L237.3,334.5 L236.9,336.1 L236.5,337.7 L236.0,339.2 L235.4,340.6 L234.8,341.9 L234.2,343.2 L233.5,344.3 L232.8,345.5 L232.0,346.5 L231.1,347.5 L230.2,348.4 L229.3,349.2 L228.2,349.9 L227.1,350.5 L226.0,351.0 L224.7,351.5 L223.4,351.9 L222.1,352.1 L220.7,352.3 L219.3,352.4 L218.0,352.4 L216.6,352.3 L215.3,352.1 L213.9,351.8 L212.5,351.4 L211.2,351.0 L209.9,350.4 L208.6,349.8 L207.4,349.0 L206.2,348.2 L205.1,347.3 L204.0,346.3 L203.0,345.2 L202.0,344.1 L201.1,342.9 L200.3,341.6 L199.5,340.3 L198.8,338.9 L198.2,337.5 L197.7,336.1 L197.2,334.6 L196.9,333.0 L196.5,331.4 L196.2,329.8 L195.9,328.1 L195.7,326.3 L195.5,324.5 L195.4,322.7 L195.2,320.8 L195.2,318.8 L195.1,316.9 L195.1,314.9 L195.2,313.0 L195.3,311.0 L195.4,309.1 L195.6,307.2 L195.9,305.2 L196.1,303.3 L196.5,301.4 L196.9,299.6 L197.3,297.8 L197.9,296.0 L198.4,294.3 L199.1,292.7 L199.8,291.1 L200.6,289.5 L201.4,288.0 L202.3,286.6 L203.2,285.3 L204.2,284.0 L205.2,282.9 L206.3,281.7 L207.4,280.7 L208.5,279.7 L209.7,278.8 L210.9,278.0 L212.2,277.2 L213.4,276.5 L214.7,275.9 L216.0,275.4 L217.4,274.9 L218.7,274.6 L220.1,274.2 L221.5,274.0 L222.8,273.8 L224.2,273.7 L225.5,273.7 L226.9,273.8 L228.3,273.9Z " fill="#fdf9fc" stroke="url(#clmag)" stroke-width="1.8" filter="url(#blur1)"/>
<ellipse cx="240" cy="299.5" rx="5.2" ry="13.3" transform="rotate(-4 240 299.5)" fill="#fefafd" stroke="#cc8ada" stroke-width="1" filter="url(#blur1)"/>
<path d="M224.5,284.6 L225.6,285.1 L226.7,285.8 L227.7,286.5 L228.5,287.3 L229.3,288.2 L230.0,289.2 L230.6,290.2 L231.1,291.3 L231.4,292.4 L231.8,293.7 L232.1,295.0 L232.4,296.5 L232.7,298.0 L232.9,299.7 L233.0,301.4 L233.2,303.3 L233.3,305.2 L233.4,307.2 L233.4,309.1 L233.3,311.0 L233.2,313.0 L233.1,314.9 L232.9,316.9 L232.7,318.8 L232.3,320.8 L232.0,322.6 L231.6,324.4 L231.2,326.0 L230.8,327.6 L230.3,329.0 L229.8,330.4 L229.2,331.7 L228.7,332.8 L228.0,333.9 L227.3,334.9 L226.6,335.7 L225.8,336.5 L225.0,337.2 L224.1,337.8 L223.2,338.3 L222.2,338.6 L221.2,339.0 L220.2,339.2 L219.1,339.4 L218.1,339.5 L217.0,339.5 L215.9,339.5 L214.7,339.3 L213.6,339.2 L212.5,338.9 L211.5,338.5 L210.5,338.0 L209.6,337.4 L208.8,336.7 L208.1,336.0 L207.4,335.1 L206.9,334.1 L206.3,333.0 L205.8,331.8 L205.4,330.5 L205.0,329.0 L204.7,327.4 L204.4,325.7 L204.1,323.9 L204.0,322.0 L203.8,320.0 L203.7,318.1 L203.7,316.2 L203.7,314.2 L203.7,312.3 L203.8,310.3 L204.0,308.4 L204.1,306.4 L204.4,304.5 L204.7,302.7 L205.2,300.9 L205.6,299.1 L206.2,297.4 L206.8,295.8 L207.6,294.2 L208.3,292.6 L209.2,291.2 L210.1,289.9 L211.0,288.7 L212.0,287.6 L213.0,286.7 L214.1,285.9 L215.2,285.1 L216.3,284.6 L217.5,284.1 L218.7,283.8 L219.8,283.7 L221.0,283.7 L222.1,283.8 L223.3,284.1 L224.5,284.6Z " fill="#f6d4dc" opacity="1" filter="url(#texl)"/>
<path d="M348.5,263.0 L348.3,263.0 L346.5,262.8 L346.3,262.8 L344.4,262.8 L344.2,262.8 L342.3,263.0 L342.1,263.0 L340.1,263.4 L340.0,263.4 L337.9,264.0 L337.8,264.0 L335.6,264.8 L335.5,264.8 L333.3,265.8 L333.3,265.8 L331.3,266.9 L331.2,266.9 L329.4,268.0 L329.3,268.0 L327.6,269.1 L327.5,269.2 L326.0,270.3 L326.0,270.4 L324.6,271.6 L324.5,271.6 L323.4,272.9 L323.3,273.0 L322.4,274.2 L322.3,274.4 L321.5,275.7 L321.4,275.7 L320.7,277.1 L320.7,277.1 L320.0,278.5 L319.9,278.5 L319.3,280.0 L319.2,280.0 L318.6,281.5 L318.6,281.5 L318.0,283.0 L318.0,283.0 L317.4,284.6 L317.4,284.6 L316.9,286.2 L316.9,286.3 L316.4,287.9 L315.9,289.5 L315.4,291.1 L314.9,292.7 L314.5,294.2 L314.0,295.8 L313.5,297.3 L313.1,298.8 L312.6,300.3 L312.6,300.4 L312.2,301.9 L312.2,301.9 L311.8,303.5 L311.8,303.5 L311.5,305.2 L311.5,305.2 L311.2,306.8 L311.2,306.9 L310.9,308.6 L310.9,308.6 L310.6,310.3 L310.6,310.3 L310.4,312.1 L310.4,312.1 L310.3,313.9 L310.3,313.9 L310.2,315.8 L310.1,315.8 L310.1,317.6 L310.1,317.7 L310.0,319.5 L310.0,319.5 L310.0,321.4 L310.0,321.4 L310.1,323.3 L310.1,323.4 L310.1,325.3 L310.1,325.3 L310.3,327.3 L310.3,327.3 L310.4,329.3 L310.4,329.3 L310.7,331.2 L310.7,331.3 L310.9,333.2 L311.0,333.2 L311.3,335.1 L311.3,335.1 L311.7,337.0 L311.7,337.0 L312.2,338.8 L312.2,338.8 L312.7,340.6 L312.7,340.7 L313.3,342.4 L313.3,342.4 L313.9,344.1 L313.9,344.2 L314.7,345.8 L314.7,345.9 L315.5,347.4 L315.6,347.5 L316.4,348.8 L316.5,348.9 L317.5,350.2 L317.6,350.3 L318.6,351.4 L318.7,351.5 L319.9,352.5 L320.0,352.6 L321.2,353.5 L321.3,353.6 L322.6,354.4 L322.7,354.5 L324.0,355.2 L324.1,355.2 L325.5,355.9 L325.5,356.0 L327.0,356.6 L327.0,356.6 L328.5,357.2 L328.6,357.2 L330.1,357.7 L330.1,357.7 L331.7,358.1 L331.7,358.1 L333.3,358.5 L333.4,358.5 L335.0,358.8 L335.1,358.8 L336.7,359.0 L336.7,359.0 L338.3,359.1 L338.4,359.1 L339.9,359.1 L340.0,359.1 L341.5,359.0 L341.6,359.0 L343.1,358.8 L343.2,358.8 L344.6,358.5 L344.7,358.5 L346.1,358.1 L346.2,358.1 L347.6,357.6 L347.7,357.6 L349.1,357.0 L349.1,357.0 L350.5,356.4 L350.6,356.4 L351.9,355.7 L352.0,355.7 L353.4,354.9 L353.4,354.9 L354.8,354.1 L354.8,354.1 L356.2,353.2 L356.2,353.2 L357.6,352.3 L357.6,352.3 L359.0,351.3 L359.0,351.2 L360.3,350.1 L360.4,350.1 L361.7,348.9 L361.7,348.9 L363.0,347.6 L363.0,347.6 L364.2,346.2 L364.2,346.2 L365.4,344.7 L365.4,344.7 L366.5,343.1 L366.6,343.1 L367.6,341.5 L367.7,341.4 L368.7,339.7 L368.7,339.7 L369.7,338.0 L369.7,337.9 L370.7,336.2 L370.7,336.1 L371.6,334.3 L371.6,334.3 L372.5,332.5 L372.5,332.4 L373.3,330.6 L373.3,330.6 L374.1,328.7 L374.1,328.6 L374.8,326.7 L374.9,326.7 L375.6,324.7 L375.6,324.7 L376.2,322.9 L376.2,322.9 L376.7,321.2 L376.8,321.1 L377.2,319.6 L377.2,319.5 L377.6,318.1 L377.6,318.1 L377.9,316.7 L378.0,316.7 L378.2,315.5 L378.2,315.4 L378.3,314.4 L378.4,314.3 L378.4,313.4 L378.4,313.3 L378.5,312.3 L378.5,312.3 L378.6,311.1 L378.6,311.0 L378.6,309.7 L378.6,309.7 L378.7,308.2 L378.7,308.2 L378.7,306.6 L378.7,306.6 L378.8,304.9 L378.8,304.9 L378.8,303.0 L378.8,303.0 L378.8,301.0 L378.8,300.9 L378.7,298.9 L378.7,298.9 L378.5,296.9 L378.5,296.8 L378.2,294.8 L378.2,294.7 L377.8,292.7 L377.8,292.6 L377.2,290.6 L377.2,290.5 L376.6,288.5 L376.5,288.5 L375.8,286.5 L375.8,286.4 L374.9,284.4 L374.9,284.3 L373.9,282.4 L373.9,282.3 L372.8,280.5 L372.8,280.4 L371.7,278.7 L371.6,278.6 L370.4,277.0 L370.3,276.9 L369.0,275.3 L369.0,275.3 L367.6,273.8 L367.5,273.7 L366.1,272.3 L366.0,272.3 L364.4,270.9 L364.4,270.9 L362.8,269.7 L362.7,269.6 L361.1,268.5 L361.1,268.5 L359.4,267.4 L359.4,267.4 L357.7,266.4 L357.6,266.4 L355.9,265.6 L355.9,265.5 L354.1,264.8 L354.1,264.7 L352.3,264.0 L352.3,264.0 L350.5,263.4 L350.3,263.4 L348.5,263.0Z M351.3,266.9 L353.0,267.5 L354.6,268.2 L356.2,269.1 L357.8,270.0 L359.4,271.0 L361.0,272.1 L362.5,273.3 L364.0,274.5 L365.4,275.9 L366.8,277.3 L368.0,278.8 L369.2,280.4 L370.2,282.0 L371.2,283.8 L372.2,285.6 L373.0,287.6 L373.7,289.5 L374.3,291.4 L374.8,293.3 L375.2,295.3 L375.5,297.2 L375.7,299.1 L375.8,301.0 L375.8,303.0 L375.8,304.8 L375.7,306.6 L375.7,308.1 L375.6,309.6 L375.6,310.9 L375.5,312.1 L375.4,313.1 L375.4,314.0 L375.2,315.0 L375.0,316.1 L374.7,317.3 L374.3,318.7 L373.9,320.3 L373.3,321.9 L372.7,323.7 L372.0,325.7 L371.3,327.5 L370.5,329.4 L369.7,331.2 L368.9,333.0 L368.0,334.8 L367.1,336.5 L366.1,338.2 L365.1,339.8 L364.1,341.4 L363.0,342.9 L361.9,344.2 L360.8,345.5 L359.6,346.7 L358.4,347.8 L357.2,348.9 L355.9,349.8 L354.5,350.7 L353.2,351.5 L351.9,352.3 L350.6,353.0 L349.3,353.7 L348.0,354.2 L346.6,354.8 L345.3,355.2 L344.0,355.6 L342.7,355.8 L341.3,356.0 L339.9,356.1 L338.4,356.1 L337.0,356.0 L335.5,355.8 L333.9,355.5 L332.4,355.2 L331.0,354.8 L329.5,354.3 L328.1,353.8 L326.8,353.2 L325.5,352.6 L324.2,351.9 L322.9,351.1 L321.8,350.3 L320.8,349.3 L319.8,348.3 L318.9,347.1 L318.1,345.9 L317.4,344.5 L316.7,343.0 L316.1,341.4 L315.6,339.7 L315.1,338.0 L314.6,336.3 L314.2,334.5 L313.9,332.7 L313.6,330.9 L313.4,329.0 L313.3,327.1 L313.1,325.1 L313.1,323.3 L313.0,321.4 L313.0,319.6 L313.1,317.7 L313.1,315.9 L313.3,314.2 L313.4,312.4 L313.6,310.7 L313.8,309.0 L314.1,307.4 L314.4,305.8 L314.7,304.2 L315.1,302.7 L315.5,301.2 L316.0,299.7 L316.4,298.2 L316.9,296.6 L317.3,295.1 L317.8,293.5 L318.3,291.9 L318.8,290.4 L319.2,288.7 L319.7,287.1 L320.2,285.6 L320.8,284.1 L321.4,282.6 L322.0,281.2 L322.6,279.8 L323.3,278.5 L324.1,277.2 L324.8,276.0 L325.7,274.9 L326.7,273.7 L327.9,272.6 L329.3,271.6 L330.9,270.5 L332.7,269.5 L334.6,268.5 L336.7,267.6 L338.7,266.9 L340.7,266.3 L342.6,265.9 L344.5,265.8 L346.2,265.8 L347.9,265.9 L349.6,266.3 L351.3,266.9Z " fill="#8cc2ee" fill-rule="evenodd" filter="url(#texl)"/>
<path d="M348.0,265.5 L346.3,265.3 L344.4,265.3 L342.5,265.5 L340.6,265.8 L338.6,266.4 L336.5,267.1 L334.4,268.1 L332.4,269.1 L330.6,270.1 L329.0,271.2 L327.6,272.3 L326.3,273.4 L325.3,274.5 L324.4,275.7 L323.6,277.0 L322.9,278.3 L322.2,279.6 L321.5,281.0 L320.9,282.4 L320.3,283.9 L319.8,285.4 L319.2,287.0 L318.8,288.6 L318.3,290.2 L317.8,291.8 L317.3,293.4 L316.9,294.9 L316.4,296.5 L315.9,298.0 L315.5,299.5 L315.0,301.0 L314.6,302.5 L314.3,304.1 L313.9,305.7 L313.6,307.3 L313.4,308.9 L313.1,310.6 L312.9,312.4 L312.8,314.1 L312.6,315.9 L312.6,317.7 L312.5,319.5 L312.5,321.4 L312.6,323.3 L312.6,325.2 L312.8,327.1 L312.9,329.0 L313.1,330.9 L313.4,332.8 L313.7,334.6 L314.1,336.4 L314.6,338.2 L315.1,339.9 L315.6,341.6 L316.2,343.2 L316.9,344.7 L317.7,346.1 L318.5,347.4 L319.4,348.6 L320.4,349.7 L321.5,350.6 L322.7,351.5 L323.9,352.3 L325.2,353.0 L326.6,353.7 L327.9,354.3 L329.4,354.8 L330.8,355.3 L332.3,355.7 L333.8,356.0 L335.4,356.3 L336.9,356.5 L338.4,356.6 L339.9,356.6 L341.3,356.5 L342.7,356.3 L344.1,356.0 L345.5,355.7 L346.8,355.2 L348.1,354.7 L349.5,354.1 L350.8,353.5 L352.2,352.7 L353.5,352.0 L354.8,351.1 L356.1,350.2 L357.5,349.3 L358.7,348.2 L360.0,347.1 L361.1,345.9 L362.3,344.6 L363.4,343.2 L364.5,341.7 L365.5,340.1 L366.5,338.4 L367.5,336.7 L368.5,335.0 L369.3,333.2 L370.2,331.4 L371.0,329.6 L371.8,327.7 L372.5,325.8 L373.2,323.9 L373.8,322.1 L374.4,320.4 L374.8,318.9 L375.2,317.5 L375.5,316.2 L375.7,315.0 L375.9,314.1 L375.9,313.2 L376.0,312.1 L376.1,310.9 L376.1,309.6 L376.2,308.2 L376.2,306.6 L376.3,304.8 L376.3,303.0 L376.3,301.0 L376.2,299.1 L376.0,297.1 L375.7,295.2 L375.3,293.2 L374.8,291.3 L374.2,289.3 L373.5,287.4 L372.6,285.4 L371.7,283.6 L370.7,281.8 L369.6,280.1 L368.4,278.5 L367.1,276.9 L365.8,275.5 L364.4,274.2 L362.8,272.9 L361.3,271.7 L359.7,270.6 L358.1,269.6 L356.5,268.6 L354.8,267.8 L353.2,267.0 L351.4,266.4 L349.7,265.8 L348.0,265.5Z M351.4,279.8 L352.4,280.1 L353.4,280.3 L354.4,280.6 L355.4,280.9 L356.4,281.2 L357.4,281.6 L358.4,281.9 L359.4,282.4 L360.3,282.8 L361.2,283.3 L362.1,283.9 L362.9,284.5 L363.7,285.1 L364.4,285.8 L365.1,286.5 L365.7,287.3 L366.3,288.1 L366.9,288.9 L367.4,289.7 L367.8,290.5 L368.2,291.3 L368.6,292.2 L368.9,293.0 L369.2,293.9 L369.4,294.8 L369.6,295.7 L369.8,296.7 L370.0,297.7 L370.1,298.7 L370.2,299.8 L370.3,300.9 L370.4,302.0 L370.4,303.1 L370.5,304.3 L370.5,305.4 L370.5,306.5 L370.5,307.5 L370.4,308.6 L370.4,309.7 L370.3,310.7 L370.2,311.8 L370.1,312.9 L369.9,314.0 L369.7,315.1 L369.4,316.3 L369.1,317.4 L368.7,318.6 L368.4,319.8 L368.0,321.0 L367.5,322.1 L367.1,323.2 L366.6,324.4 L366.2,325.4 L365.7,326.5 L365.2,327.5 L364.6,328.5 L364.1,329.5 L363.5,330.4 L362.9,331.3 L362.2,332.1 L361.5,332.9 L360.8,333.7 L360.0,334.4 L359.3,335.1 L358.5,335.7 L357.7,336.4 L356.8,336.9 L356.0,337.5 L355.2,338.0 L354.4,338.5 L353.5,338.9 L352.7,339.3 L351.8,339.7 L350.9,340.0 L349.9,340.4 L349.0,340.7 L348.0,341.0 L347.0,341.2 L345.9,341.5 L344.8,341.7 L343.7,341.9 L342.6,342.1 L341.5,342.2 L340.4,342.3 L339.3,342.3 L338.2,342.4 L337.1,342.4 L336.0,342.3 L334.9,342.3 L333.9,342.1 L332.9,342.0 L332.0,341.8 L331.1,341.6 L330.2,341.3 L329.4,341.0 L328.7,340.7 L328.0,340.3 L327.3,339.9 L326.7,339.5 L326.2,339.0 L325.7,338.5 L325.2,338.0 L324.9,337.5 L324.5,336.9 L324.2,336.3 L323.9,335.6 L323.6,334.9 L323.2,334.1 L322.9,333.3 L322.6,332.4 L322.3,331.4 L321.9,330.5 L321.6,329.5 L321.4,328.5 L321.2,327.6 L321.0,326.7 L320.9,325.8 L320.7,324.9 L320.7,324.1 L320.6,323.2 L320.6,322.4 L320.6,321.4 L320.6,320.5 L320.6,319.5 L320.7,318.4 L320.7,317.4 L320.8,316.2 L320.9,315.1 L321.0,313.9 L321.1,312.8 L321.3,311.7 L321.5,310.6 L321.7,309.5 L321.9,308.5 L322.2,307.4 L322.4,306.4 L322.7,305.3 L323.1,304.3 L323.4,303.2 L323.8,302.1 L324.1,301.0 L324.5,299.9 L325.0,298.7 L325.4,297.6 L325.9,296.4 L326.4,295.3 L326.9,294.2 L327.5,293.1 L328.0,292.0 L328.6,290.9 L329.2,289.9 L329.9,288.8 L330.5,287.9 L331.2,286.9 L332.0,286.1 L332.7,285.2 L333.5,284.5 L334.3,283.8 L335.1,283.1 L336.0,282.6 L336.9,282.0 L337.7,281.5 L338.7,281.1 L339.6,280.7 L340.5,280.4 L341.5,280.1 L342.4,279.8 L343.4,279.7 L344.4,279.5 L345.4,279.4 L346.4,279.4 L347.4,279.4 L348.4,279.4 L349.4,279.5 L350.4,279.7 L351.4,279.8Z " fill="#2474c8" fill-rule="evenodd" filter="url(#texg)"/>
<path d="M349.6,277.7 L349.5,277.7 L348.5,277.6 L348.4,277.6 L347.4,277.6 L347.4,277.6 L346.4,277.6 L346.3,277.6 L345.3,277.6 L345.2,277.6 L344.2,277.7 L344.1,277.7 L343.1,277.9 L343.0,277.9 L342.1,278.1 L342.0,278.1 L341.0,278.3 L340.9,278.4 L340.0,278.6 L339.9,278.7 L339.0,279.0 L338.9,279.0 L338.0,279.4 L337.9,279.5 L337.0,279.9 L336.9,280.0 L336.0,280.4 L335.9,280.5 L335.0,281.0 L335.0,281.1 L334.1,281.7 L334.0,281.7 L333.2,282.4 L333.1,282.4 L332.3,283.1 L332.2,283.2 L331.4,284.0 L331.4,284.0 L330.6,284.8 L330.6,284.9 L329.8,285.8 L329.8,285.8 L329.1,286.8 L329.0,286.8 L328.4,287.8 L328.3,287.9 L327.7,288.9 L327.7,289.0 L327.1,290.0 L327.0,290.1 L326.5,291.1 L326.4,291.2 L325.9,292.2 L325.8,292.3 L325.3,293.4 L325.3,293.4 L324.8,294.5 L324.7,294.6 L324.3,295.7 L324.2,295.7 L323.8,296.9 L323.7,296.9 L323.3,298.1 L323.3,298.1 L322.9,299.2 L322.9,299.3 L322.4,300.4 L322.4,300.4 L322.1,301.5 L322.0,301.5 L321.7,302.6 L321.7,302.7 L321.3,303.7 L321.3,303.8 L321.0,304.8 L321.0,304.9 L320.7,305.9 L320.7,305.9 L320.4,306.9 L320.4,307.0 L320.2,308.0 L320.2,308.1 L319.9,309.1 L319.9,309.2 L319.7,310.3 L319.7,310.3 L319.5,311.4 L319.5,311.4 L319.4,312.5 L319.4,312.6 L319.2,313.7 L319.2,313.7 L319.1,314.9 L319.1,314.9 L319.0,316.1 L319.0,316.1 L318.9,317.2 L318.9,317.3 L318.9,318.3 L318.9,318.4 L318.8,319.4 L318.8,319.4 L318.8,320.4 L318.8,320.5 L318.8,321.4 L318.8,321.4 L318.8,322.4 L318.8,322.4 L318.8,323.3 L318.8,323.3 L318.9,324.1 L318.9,324.2 L318.9,325.1 L319.0,325.1 L319.1,326.0 L319.1,326.1 L319.2,327.0 L319.2,327.0 L319.4,328.0 L319.4,328.0 L319.6,328.9 L319.7,329.0 L319.9,330.0 L319.9,330.0 L320.2,331.0 L320.2,331.0 L320.6,332.0 L320.6,332.0 L320.9,333.0 L320.9,333.0 L321.2,333.9 L321.2,333.9 L321.6,334.8 L321.6,334.8 L321.9,335.6 L321.9,335.6 L322.2,336.3 L322.3,336.4 L322.6,337.1 L322.6,337.1 L322.9,337.7 L323.0,337.8 L323.3,338.4 L323.4,338.5 L323.8,339.1 L323.9,339.2 L324.3,339.7 L324.4,339.8 L324.9,340.3 L325.0,340.4 L325.6,340.9 L325.7,341.0 L326.3,341.4 L326.4,341.5 L327.0,341.9 L327.1,341.9 L327.8,342.3 L327.9,342.3 L328.7,342.7 L328.8,342.7 L329.6,343.0 L329.7,343.0 L330.6,343.3 L330.6,343.3 L331.5,343.6 L331.6,343.6 L332.6,343.8 L332.6,343.8 L333.6,343.9 L333.7,343.9 L334.7,344.0 L334.8,344.1 L335.9,344.1 L335.9,344.1 L337.0,344.2 L337.1,344.2 L338.2,344.2 L338.3,344.2 L339.4,344.1 L339.4,344.1 L340.5,344.1 L340.6,344.1 L341.7,344.0 L341.7,344.0 L342.8,343.9 L342.9,343.8 L344.0,343.7 L344.0,343.7 L345.1,343.5 L345.2,343.5 L346.3,343.3 L346.3,343.2 L347.4,343.0 L347.4,343.0 L348.4,342.7 L348.5,342.7 L349.5,342.4 L349.5,342.4 L350.5,342.1 L350.6,342.1 L351.5,341.7 L351.5,341.7 L352.5,341.4 L352.5,341.3 L353.4,341.0 L353.4,340.9 L354.3,340.5 L354.4,340.5 L355.2,340.1 L355.3,340.0 L356.1,339.6 L356.1,339.5 L357.0,339.0 L357.0,339.0 L357.8,338.4 L357.9,338.4 L358.7,337.8 L358.8,337.8 L359.6,337.2 L359.6,337.1 L360.4,336.5 L360.4,336.4 L361.2,335.8 L361.3,335.7 L362.0,335.0 L362.1,334.9 L362.8,334.1 L362.9,334.1 L363.6,333.3 L363.6,333.2 L364.3,332.4 L364.3,332.3 L365.0,331.4 L365.0,331.4 L365.6,330.4 L365.6,330.4 L366.2,329.4 L366.2,329.3 L366.8,328.3 L366.8,328.3 L367.3,327.3 L367.3,327.2 L367.8,326.2 L367.8,326.2 L368.3,325.1 L368.3,325.0 L368.8,323.9 L368.8,323.9 L369.2,322.8 L369.2,322.7 L369.6,321.6 L369.7,321.6 L370.1,320.4 L370.1,320.4 L370.5,319.2 L370.5,319.1 L370.8,317.9 L370.8,317.9 L371.1,316.7 L371.2,316.7 L371.4,315.5 L371.4,315.5 L371.7,314.3 L371.7,314.3 L371.8,313.2 L371.9,313.1 L372.0,312.0 L372.0,312.0 L372.1,310.9 L372.1,310.8 L372.2,309.8 L372.2,309.8 L372.2,308.7 L372.2,308.7 L372.3,307.6 L372.3,307.6 L372.3,306.5 L372.3,306.5 L372.3,305.4 L372.3,305.3 L372.3,304.2 L372.3,304.2 L372.2,303.1 L372.2,303.1 L372.2,301.9 L372.2,301.9 L372.1,300.8 L372.1,300.7 L372.0,299.6 L372.0,299.6 L371.9,298.5 L371.9,298.5 L371.8,297.4 L371.8,297.4 L371.6,296.4 L371.6,296.3 L371.4,295.4 L371.4,295.3 L371.2,294.4 L371.2,294.3 L370.9,293.4 L370.9,293.4 L370.6,292.5 L370.6,292.4 L370.3,291.5 L370.3,291.5 L369.9,290.6 L369.9,290.5 L369.5,289.7 L369.4,289.6 L369.0,288.8 L368.9,288.7 L368.4,287.9 L368.4,287.8 L367.8,287.0 L367.8,287.0 L367.2,286.2 L367.1,286.1 L366.5,285.4 L366.4,285.3 L365.7,284.5 L365.6,284.5 L364.9,283.8 L364.8,283.7 L364.0,283.1 L363.9,283.0 L363.1,282.4 L363.0,282.4 L362.2,281.8 L362.1,281.7 L361.2,281.2 L361.1,281.2 L360.2,280.7 L360.1,280.7 L359.1,280.3 L359.1,280.3 L358.1,279.9 L358.0,279.9 L357.1,279.5 L357.0,279.5 L356.0,279.2 L356.0,279.2 L355.0,278.9 L354.9,278.8 L353.9,278.6 L353.9,278.6 L352.9,278.3 L352.8,278.3 L351.8,278.1 L351.7,278.1 L350.7,277.9 L350.6,277.9 L349.6,277.7Z M351.4,279.8 L352.4,280.1 L353.4,280.3 L354.4,280.6 L355.4,280.9 L356.4,281.2 L357.4,281.6 L358.4,281.9 L359.4,282.4 L360.3,282.8 L361.2,283.3 L362.1,283.9 L362.9,284.5 L363.7,285.1 L364.4,285.8 L365.1,286.5 L365.7,287.3 L366.3,288.1 L366.9,288.9 L367.4,289.7 L367.8,290.5 L368.2,291.3 L368.6,292.2 L368.9,293.0 L369.2,293.9 L369.4,294.8 L369.6,295.7 L369.8,296.7 L370.0,297.7 L370.1,298.7 L370.2,299.8 L370.3,300.9 L370.4,302.0 L370.4,303.1 L370.5,304.3 L370.5,305.4 L370.5,306.5 L370.5,307.5 L370.4,308.6 L370.4,309.7 L370.3,310.7 L370.2,311.8 L370.1,312.9 L369.9,314.0 L369.7,315.1 L369.4,316.3 L369.1,317.4 L368.7,318.6 L368.4,319.8 L368.0,321.0 L367.5,322.1 L367.1,323.2 L366.6,324.4 L366.2,325.4 L365.7,326.5 L365.2,327.5 L364.6,328.5 L364.1,329.5 L363.5,330.4 L362.9,331.3 L362.2,332.1 L361.5,332.9 L360.8,333.7 L360.0,334.4 L359.3,335.1 L358.5,335.7 L357.7,336.4 L356.8,336.9 L356.0,337.5 L355.2,338.0 L354.4,338.5 L353.5,338.9 L352.7,339.3 L351.8,339.7 L350.9,340.0 L349.9,340.4 L349.0,340.7 L348.0,341.0 L347.0,341.2 L345.9,341.5 L344.8,341.7 L343.7,341.9 L342.6,342.1 L341.5,342.2 L340.4,342.3 L339.3,342.3 L338.2,342.4 L337.1,342.4 L336.0,342.3 L334.9,342.3 L333.9,342.1 L332.9,342.0 L332.0,341.8 L331.1,341.6 L330.2,341.3 L329.4,341.0 L328.7,340.7 L328.0,340.3 L327.3,339.9 L326.7,339.5 L326.2,339.0 L325.7,338.5 L325.2,338.0 L324.9,337.5 L324.5,336.9 L324.2,336.3 L323.9,335.6 L323.6,334.9 L323.2,334.1 L322.9,333.3 L322.6,332.4 L322.3,331.4 L321.9,330.5 L321.6,329.5 L321.4,328.5 L321.2,327.6 L321.0,326.7 L320.9,325.8 L320.7,324.9 L320.7,324.1 L320.6,323.2 L320.6,322.4 L320.6,321.4 L320.6,320.5 L320.6,319.5 L320.7,318.4 L320.7,317.4 L320.8,316.2 L320.9,315.1 L321.0,313.9 L321.1,312.8 L321.3,311.7 L321.5,310.6 L321.7,309.5 L321.9,308.5 L322.2,307.4 L322.4,306.4 L322.7,305.3 L323.1,304.3 L323.4,303.2 L323.8,302.1 L324.1,301.0 L324.5,299.9 L325.0,298.7 L325.4,297.6 L325.9,296.4 L326.4,295.3 L326.9,294.2 L327.5,293.1 L328.0,292.0 L328.6,290.9 L329.2,289.9 L329.9,288.8 L330.5,287.9 L331.2,286.9 L332.0,286.1 L332.7,285.2 L333.5,284.5 L334.3,283.8 L335.1,283.1 L336.0,282.6 L336.9,282.0 L337.7,281.5 L338.7,281.1 L339.6,280.7 L340.5,280.4 L341.5,280.1 L342.4,279.8 L343.4,279.7 L344.4,279.5 L345.4,279.4 L346.4,279.4 L347.4,279.4 L348.4,279.4 L349.4,279.5 L350.4,279.7 L351.4,279.8Z " fill="#1c64b8" fill-rule="evenodd" filter="url(#texg)" opacity="0.85"/>
<g opacity="0.75" filter="url(#blur1)"><ellipse cx="347.6" cy="358.2" rx="1.3" ry="0.6" transform="rotate(176 347.6 358.2)" fill="#3a8ad6"/><ellipse cx="315.5" cy="288.2" rx="0.9" ry="0.4" transform="rotate(307 315.5 288.2)" fill="#3a8ad6"/><ellipse cx="380.0" cy="313.0" rx="1.1" ry="0.6" transform="rotate(95 380.0 313.0)" fill="#3a8ad6"/><ellipse cx="348.8" cy="359.1" rx="1.4" ry="0.7" transform="rotate(174 348.8 359.1)" fill="#3a8ad6"/><ellipse cx="366.7" cy="272.4" rx="1.6" ry="0.8" transform="rotate(391 366.7 272.4)" fill="#3a8ad6"/><ellipse cx="367.6" cy="342.8" rx="1.9" ry="1.0" transform="rotate(144 367.6 342.8)" fill="#3a8ad6"/><ellipse cx="310.3" cy="305.0" rx="1.7" ry="0.8" transform="rotate(278 310.3 305.0)" fill="#3a8ad6"/><ellipse cx="377.1" cy="324.1" rx="1.6" ry="0.8" transform="rotate(113 377.1 324.1)" fill="#3a8ad6"/><ellipse cx="328.6" cy="356.2" rx="1.9" ry="1.0" transform="rotate(198 328.6 356.2)" fill="#3a8ad6"/><ellipse cx="309.0" cy="316.0" rx="1.9" ry="1.0" transform="rotate(260 309.0 316.0)" fill="#3a8ad6"/><ellipse cx="333.4" cy="263.9" rx="1.3" ry="0.7" transform="rotate(347 333.4 263.9)" fill="#3a8ad6"/><ellipse cx="358.4" cy="266.5" rx="2.0" ry="1.0" transform="rotate(378 358.4 266.5)" fill="#3a8ad6"/><ellipse cx="373.0" cy="282.3" rx="1.0" ry="0.5" transform="rotate(406 373.0 282.3)" fill="#3a8ad6"/><ellipse cx="353.8" cy="356.7" rx="1.4" ry="0.7" transform="rotate(168 353.8 356.7)" fill="#3a8ad6"/><ellipse cx="318.1" cy="283.5" rx="1.4" ry="0.7" transform="rotate(316 318.1 283.5)" fill="#3a8ad6"/><ellipse cx="312.0" cy="337.9" rx="1.5" ry="0.8" transform="rotate(229 312.0 337.9)" fill="#3a8ad6"/><ellipse cx="313.4" cy="292.1" rx="1.7" ry="0.8" transform="rotate(300 313.4 292.1)" fill="#3a8ad6"/><ellipse cx="379.4" cy="293.1" rx="2.1" ry="1.0" transform="rotate(424 379.4 293.1)" fill="#3a8ad6"/><ellipse cx="324.0" cy="273.0" rx="1.9" ry="1.0" transform="rotate(332 324.0 273.0)" fill="#3a8ad6"/><ellipse cx="380.4" cy="301.8" rx="1.5" ry="0.8" transform="rotate(437 380.4 301.8)" fill="#3a8ad6"/><ellipse cx="333.8" cy="266.0" rx="1.9" ry="0.9" transform="rotate(347 333.8 266.0)" fill="#3a8ad6"/><ellipse cx="314.3" cy="295.2" rx="0.9" ry="0.4" transform="rotate(296 314.3 295.2)" fill="#3a8ad6"/><ellipse cx="371.0" cy="274.7" rx="0.9" ry="0.5" transform="rotate(397 371.0 274.7)" fill="#3a8ad6"/><ellipse cx="358.3" cy="266.6" rx="1.0" ry="0.5" transform="rotate(378 358.3 266.6)" fill="#3a8ad6"/><ellipse cx="330.1" cy="359.0" rx="1.9" ry="1.0" transform="rotate(196 330.1 359.0)" fill="#3a8ad6"/><ellipse cx="378.1" cy="319.7" rx="0.9" ry="0.4" transform="rotate(106 378.1 319.7)" fill="#3a8ad6"/><ellipse cx="335.0" cy="265.1" rx="1.9" ry="1.0" transform="rotate(349 335.0 265.1)" fill="#3a8ad6"/><ellipse cx="379.2" cy="305.7" rx="2.1" ry="1.0" transform="rotate(443 379.2 305.7)" fill="#3a8ad6"/><ellipse cx="326.1" cy="355.4" rx="1.6" ry="0.8" transform="rotate(201 326.1 355.4)" fill="#3a8ad6"/><ellipse cx="377.5" cy="316.7" rx="1.3" ry="0.7" transform="rotate(101 377.5 316.7)" fill="#3a8ad6"/><ellipse cx="317.1" cy="287.6" rx="0.9" ry="0.4" transform="rotate(310 317.1 287.6)" fill="#3a8ad6"/><ellipse cx="372.0" cy="279.4" rx="2.0" ry="1.0" transform="rotate(402 372.0 279.4)" fill="#3a8ad6"/><ellipse cx="375.7" cy="286.0" rx="1.4" ry="0.7" transform="rotate(413 375.7 286.0)" fill="#3a8ad6"/><ellipse cx="310.4" cy="305.7" rx="1.6" ry="0.8" transform="rotate(277 310.4 305.7)" fill="#3a8ad6"/><ellipse cx="312.5" cy="297.7" rx="2.0" ry="1.0" transform="rotate(291 312.5 297.7)" fill="#3a8ad6"/><ellipse cx="310.6" cy="308.5" rx="1.7" ry="0.9" transform="rotate(273 310.6 308.5)" fill="#3a8ad6"/><ellipse cx="347.7" cy="357.4" rx="2.1" ry="1.0" transform="rotate(176 347.7 357.4)" fill="#3a8ad6"/><ellipse cx="310.7" cy="305.6" rx="0.8" ry="0.4" transform="rotate(278 310.7 305.6)" fill="#3a8ad6"/><ellipse cx="310.0" cy="330.1" rx="0.8" ry="0.4" transform="rotate(239 310.0 330.1)" fill="#3a8ad6"/><ellipse cx="316.4" cy="285.4" rx="0.9" ry="0.4" transform="rotate(312 316.4 285.4)" fill="#3a8ad6"/><ellipse cx="317.8" cy="283.0" rx="1.7" ry="0.8" transform="rotate(316 317.8 283.0)" fill="#3a8ad6"/><ellipse cx="315.1" cy="348.5" rx="1.7" ry="0.9" transform="rotate(217 315.1 348.5)" fill="#3a8ad6"/><ellipse cx="377.5" cy="314.7" rx="1.7" ry="0.8" transform="rotate(98 377.5 314.7)" fill="#3a8ad6"/><ellipse cx="378.5" cy="301.9" rx="1.4" ry="0.7" transform="rotate(437 378.5 301.9)" fill="#3a8ad6"/><ellipse cx="315.5" cy="291.2" rx="1.3" ry="0.6" transform="rotate(303 315.5 291.2)" fill="#3a8ad6"/><ellipse cx="325.0" cy="355.8" rx="1.6" ry="0.8" transform="rotate(203 325.0 355.8)" fill="#3a8ad6"/><ellipse cx="328.5" cy="357.3" rx="1.8" ry="0.9" transform="rotate(198 328.5 357.3)" fill="#3a8ad6"/><ellipse cx="378.8" cy="315.9" rx="1.7" ry="0.9" transform="rotate(100 378.8 315.9)" fill="#3a8ad6"/><ellipse cx="325.9" cy="355.7" rx="1.8" ry="0.9" transform="rotate(202 325.9 355.7)" fill="#3a8ad6"/><ellipse cx="347.4" cy="357.2" rx="1.4" ry="0.7" transform="rotate(176 347.4 357.2)" fill="#3a8ad6"/><ellipse cx="329.9" cy="268.4" rx="1.2" ry="0.6" transform="rotate(341 329.9 268.4)" fill="#3a8ad6"/><ellipse cx="318.8" cy="353.5" rx="1.4" ry="0.7" transform="rotate(210 318.8 353.5)" fill="#3a8ad6"/><ellipse cx="369.8" cy="277.0" rx="1.2" ry="0.6" transform="rotate(398 369.8 277.0)" fill="#3a8ad6"/><ellipse cx="319.6" cy="276.3" rx="1.4" ry="0.7" transform="rotate(324 319.6 276.3)" fill="#3a8ad6"/><ellipse cx="351.2" cy="355.3" rx="1.5" ry="0.7" transform="rotate(171 351.2 355.3)" fill="#3a8ad6"/><ellipse cx="360.3" cy="351.8" rx="1.9" ry="0.9" transform="rotate(159 360.3 351.8)" fill="#3a8ad6"/><ellipse cx="361.3" cy="349.0" rx="1.8" ry="0.9" transform="rotate(156 361.3 349.0)" fill="#3a8ad6"/><ellipse cx="318.7" cy="278.6" rx="1.2" ry="0.6" transform="rotate(321 318.7 278.6)" fill="#3a8ad6"/><ellipse cx="369.8" cy="337.4" rx="1.8" ry="0.9" transform="rotate(137 369.8 337.4)" fill="#3a8ad6"/><ellipse cx="337.4" cy="359.1" rx="1.3" ry="0.7" transform="rotate(188 337.4 359.1)" fill="#3a8ad6"/></g>
<g opacity="0.85" filter="url(#blur1)"><circle cx="430.8" cy="291.1" r="0.5" fill="#b8b0d8"/><circle cx="434.0" cy="289.1" r="0.4" fill="#d8d0ec"/><circle cx="434.9" cy="290.6" r="0.4" fill="#b8b0d8"/><circle cx="464.9" cy="288.9" r="0.4" fill="#d8d0ec"/><circle cx="412.6" cy="295.6" r="0.5" fill="#d8d0ec"/><circle cx="419.3" cy="292.3" r="1.0" fill="#c8c0e4"/><circle cx="414.1" cy="291.1" r="0.5" fill="#b8b0d8"/><circle cx="441.8" cy="285.7" r="0.8" fill="#a8a4d0"/><circle cx="439.5" cy="286.6" r="0.6" fill="#c8c0e4"/><circle cx="452.0" cy="290.8" r="0.8" fill="#a8a4d0"/><circle cx="452.2" cy="294.2" r="0.5" fill="#d8d0ec"/><circle cx="416.4" cy="294.9" r="0.7" fill="#b8b0d8"/><circle cx="451.8" cy="286.5" r="0.6" fill="#a8a4d0"/><circle cx="443.4" cy="286.3" r="1.0" fill="#a8a4d0"/><circle cx="437.8" cy="286.9" r="0.9" fill="#d8d0ec"/><circle cx="424.1" cy="291.1" r="0.4" fill="#d8d0ec"/><circle cx="428.9" cy="286.6" r="0.6" fill="#a8a4d0"/><circle cx="417.0" cy="293.5" r="1.0" fill="#b8b0d8"/><circle cx="417.8" cy="291.6" r="0.5" fill="#d8d0ec"/><circle cx="461.4" cy="291.9" r="0.7" fill="#d8d0ec"/><circle cx="468.3" cy="292.3" r="0.6" fill="#c8c0e4"/><circle cx="410.4" cy="292.5" r="0.6" fill="#c8c0e4"/><circle cx="432.9" cy="289.9" r="1.1" fill="#b8b0d8"/><circle cx="440.8" cy="283.7" r="0.9" fill="#d8d0ec"/><circle cx="431.5" cy="289.5" r="0.7" fill="#c8c0e4"/><circle cx="413.5" cy="293.7" r="0.6" fill="#b8b0d8"/><circle cx="412.8" cy="290.7" r="1.1" fill="#b8b0d8"/><circle cx="413.9" cy="294.5" r="0.8" fill="#a8a4d0"/><circle cx="444.9" cy="287.7" r="0.7" fill="#d8d0ec"/><circle cx="438.1" cy="288.7" r="0.9" fill="#a8a4d0"/><circle cx="437.5" cy="285.1" r="0.5" fill="#a8a4d0"/><circle cx="417.6" cy="290.8" r="0.8" fill="#b8b0d8"/><circle cx="451.5" cy="290.1" r="0.5" fill="#c8c0e4"/><circle cx="442.1" cy="285.5" r="0.6" fill="#c8c0e4"/><circle cx="459.8" cy="285.7" r="0.6" fill="#d8d0ec"/><circle cx="431.4" cy="288.3" r="0.6" fill="#a8a4d0"/><circle cx="419.4" cy="288.9" r="1.0" fill="#a8a4d0"/><circle cx="466.3" cy="292.3" r="0.6" fill="#c8c0e4"/><circle cx="423.5" cy="289.1" r="0.8" fill="#b8b0d8"/><circle cx="436.2" cy="284.3" r="0.5" fill="#b8b0d8"/><circle cx="465.3" cy="286.8" r="0.7" fill="#c8c0e4"/><circle cx="435.1" cy="287.0" r="1.1" fill="#d8d0ec"/><circle cx="437.5" cy="286.7" r="0.5" fill="#c8c0e4"/><circle cx="408.6" cy="292.0" r="0.9" fill="#d8d0ec"/><circle cx="447.7" cy="290.0" r="0.5" fill="#b8b0d8"/><circle cx="457.8" cy="287.9" r="0.9" fill="#c8c0e4"/><circle cx="438.6" cy="284.8" r="0.5" fill="#a8a4d0"/><circle cx="418.4" cy="289.9" r="0.6" fill="#d8d0ec"/><circle cx="463.4" cy="290.6" r="1.0" fill="#d8d0ec"/><circle cx="460.4" cy="288.4" r="0.5" fill="#b8b0d8"/><circle cx="462.9" cy="286.8" r="0.9" fill="#c8c0e4"/><circle cx="416.2" cy="291.1" r="0.8" fill="#a8a4d0"/><circle cx="448.4" cy="287.4" r="0.9" fill="#b8b0d8"/><circle cx="423.7" cy="293.1" r="0.8" fill="#b8b0d8"/><circle cx="457.6" cy="287.2" r="0.8" fill="#c8c0e4"/><circle cx="448.9" cy="288.7" r="0.7" fill="#c8c0e4"/><circle cx="455.6" cy="284.3" r="0.6" fill="#c8c0e4"/><circle cx="461.1" cy="290.2" r="0.7" fill="#b8b0d8"/><circle cx="448.8" cy="288.5" r="0.6" fill="#b8b0d8"/><circle cx="465.8" cy="293.1" r="0.9" fill="#c8c0e4"/><circle cx="426.2" cy="291.2" r="0.9" fill="#b8b0d8"/><circle cx="426.9" cy="288.5" r="1.0" fill="#c8c0e4"/><circle cx="454.5" cy="287.9" r="0.7" fill="#a8a4d0"/><circle cx="428.6" cy="288.2" r="0.8" fill="#d8d0ec"/><circle cx="450.1" cy="289.8" r="0.6" fill="#b8b0d8"/><circle cx="417.4" cy="290.8" r="1.0" fill="#b8b0d8"/><circle cx="429.1" cy="290.1" r="0.6" fill="#c8c0e4"/><circle cx="461.1" cy="286.4" r="1.1" fill="#d8d0ec"/><circle cx="420.7" cy="289.5" r="0.9" fill="#b8b0d8"/><circle cx="426.7" cy="287.7" r="1.0" fill="#a8a4d0"/><circle cx="493.6" cy="289.4" r="0.5" fill="#c8c0e4"/><circle cx="473.1" cy="290.2" r="0.6" fill="#d8d0ec"/><circle cx="495.1" cy="292.3" r="0.8" fill="#c8c0e4"/><circle cx="496.7" cy="291.3" r="0.5" fill="#a8a4d0"/><circle cx="486.6" cy="289.9" r="0.7" fill="#c8c0e4"/><circle cx="479.6" cy="285.6" r="0.4" fill="#b8b0d8"/><circle cx="489.4" cy="290.1" r="0.7" fill="#d8d0ec"/><circle cx="473.9" cy="289.7" r="0.7" fill="#d8d0ec"/><circle cx="495.9" cy="292.8" r="0.6" fill="#c8c0e4"/><circle cx="492.3" cy="288.7" r="0.7" fill="#a8a4d0"/><circle cx="496.7" cy="291.6" r="0.8" fill="#a8a4d0"/><circle cx="484.6" cy="290.8" r="0.7" fill="#a8a4d0"/><circle cx="486.7" cy="289.6" r="0.5" fill="#a8a4d0"/><circle cx="482.4" cy="294.1" r="1.1" fill="#a8a4d0"/><circle cx="478.5" cy="290.2" r="0.6" fill="#b8b0d8"/><circle cx="480.8" cy="290.9" r="0.9" fill="#c8c0e4"/><circle cx="485.6" cy="290.0" r="0.5" fill="#d8d0ec"/><circle cx="485.5" cy="290.9" r="0.8" fill="#b8b0d8"/><circle cx="483.9" cy="289.6" r="0.9" fill="#d8d0ec"/><circle cx="490.8" cy="288.7" r="0.6" fill="#c8c0e4"/><circle cx="432.6" cy="298.8" r="0.8" fill="#c8c0e4"/><circle cx="464.8" cy="293.7" r="1.0" fill="#b8b0d8"/><circle cx="457.1" cy="294.3" r="0.9" fill="#c8c0e4"/><circle cx="435.2" cy="303.6" r="1.1" fill="#d8d0ec"/><circle cx="458.7" cy="295.7" r="0.8" fill="#c8c0e4"/><circle cx="453.0" cy="298.4" r="0.9" fill="#b8b0d8"/><circle cx="459.0" cy="299.0" r="0.6" fill="#b8b0d8"/><circle cx="462.8" cy="301.1" r="0.6" fill="#d8d0ec"/><circle cx="446.6" cy="300.2" r="0.9" fill="#b8b0d8"/><circle cx="453.0" cy="296.8" r="0.5" fill="#a8a4d0"/><circle cx="453.7" cy="294.1" r="0.5" fill="#d8d0ec"/><circle cx="430.2" cy="306.8" r="0.9" fill="#d8d0ec"/><circle cx="437.7" cy="299.8" r="0.7" fill="#b8b0d8"/><circle cx="465.7" cy="296.3" r="0.5" fill="#d8d0ec"/><circle cx="424.3" cy="304.9" r="1.1" fill="#d8d0ec"/><circle cx="463.6" cy="300.6" r="1.1" fill="#b8b0d8"/><circle cx="454.1" cy="300.1" r="1.1" fill="#c8c0e4"/><circle cx="451.7" cy="296.1" r="0.5" fill="#a8a4d0"/><circle cx="440.3" cy="299.1" r="0.4" fill="#b8b0d8"/><circle cx="465.1" cy="294.6" r="0.9" fill="#d8d0ec"/><circle cx="440.7" cy="303.9" r="0.4" fill="#a8a4d0"/><circle cx="466.3" cy="300.8" r="0.9" fill="#a8a4d0"/><circle cx="441.2" cy="301.5" r="1.0" fill="#b8b0d8"/><circle cx="441.5" cy="300.3" r="0.4" fill="#b8b0d8"/><circle cx="428.4" cy="300.2" r="0.5" fill="#a8a4d0"/><circle cx="410.8" cy="291.5" r="0.9" fill="#d8d0ec"/><circle cx="412.0" cy="294.6" r="1.0" fill="#c8c0e4"/><circle cx="413.6" cy="294.3" r="0.7" fill="#c8c0e4"/><circle cx="411.7" cy="292.9" r="1.0" fill="#c8c0e4"/><circle cx="410.0" cy="286.6" r="0.6" fill="#a8a4d0"/><circle cx="411.7" cy="290.6" r="0.9" fill="#b8b0d8"/><circle cx="411.3" cy="286.8" r="1.0" fill="#d8d0ec"/><circle cx="410.8" cy="291.5" r="0.9" fill="#d8d0ec"/><circle cx="410.9" cy="286.2" r="0.6" fill="#b8b0d8"/><circle cx="409.9" cy="289.6" r="0.5" fill="#b8b0d8"/></g>
<path d="M412.6,323.7 L412.5,323.7 L411.6,324.2 L411.6,324.2 L410.8,324.7 L410.8,324.7 L410.1,325.2 L410.1,325.3 L409.5,325.7 L409.5,325.8 L409.0,326.2 L408.9,326.3 L408.6,326.8 L408.5,326.9 L408.5,326.9 L408.3,327.3 L408.2,327.4 L408.2,327.5 L408.1,327.9 L408.0,328.0 L408.0,328.1 L407.9,328.6 L407.9,328.7 L407.9,328.7 L407.9,329.2 L407.9,329.3 L407.9,329.4 L408.0,329.8 L408.0,330.0 L408.2,330.5 L408.2,330.6 L408.4,331.1 L408.5,331.2 L408.8,331.7 L408.8,331.8 L409.2,332.4 L409.2,332.5 L409.6,333.0 L409.7,333.1 L410.2,333.5 L410.2,333.6 L410.8,334.1 L410.8,334.1 L411.4,334.6 L411.5,334.6 L412.1,335.1 L412.2,335.1 L412.9,335.5 L413.0,335.5 L413.7,335.9 L413.8,335.9 L414.6,336.3 L415.4,336.6 L416.2,337.0 L417.1,337.4 L418.0,337.8 L418.9,338.2 L419.8,338.7 L420.7,339.1 L421.6,339.6 L422.6,340.0 L423.5,340.5 L424.5,341.0 L425.4,341.5 L426.3,342.0 L427.3,342.5 L428.2,343.0 L429.1,343.6 L430.0,344.1 L431.0,344.7 L431.9,345.2 L432.8,345.8 L433.8,346.5 L434.7,347.1 L435.6,347.7 L436.6,348.4 L436.6,348.4 L437.5,349.1 L437.6,349.1 L438.5,349.7 L438.5,349.7 L439.5,350.3 L439.5,350.3 L440.4,350.9 L440.4,350.9 L441.4,351.5 L441.4,351.5 L442.3,352.0 L442.4,352.0 L443.3,352.6 L443.3,352.6 L444.3,353.1 L444.3,353.1 L445.2,353.5 L445.3,353.5 L446.2,354.0 L446.2,354.0 L447.2,354.4 L447.2,354.4 L448.1,354.8 L448.2,354.8 L449.1,355.2 L449.1,355.2 L450.1,355.5 L450.1,355.5 L451.1,355.8 L451.1,355.8 L452.0,356.1 L452.1,356.1 L453.0,356.4 L453.0,356.4 L454.0,356.6 L454.0,356.6 L455.0,356.8 L455.0,356.8 L455.9,357.0 L455.9,357.0 L456.9,357.2 L456.9,357.2 L457.9,357.4 L457.9,357.4 L458.8,357.6 L458.9,357.6 L459.8,357.7 L459.8,357.7 L460.8,357.8 L460.8,357.8 L461.8,357.9 L461.8,357.9 L462.8,357.9 L462.8,357.9 L463.8,357.9 L463.8,357.9 L464.7,357.9 L464.8,357.9 L465.7,357.8 L465.8,357.8 L466.7,357.7 L466.8,357.7 L467.7,357.6 L467.7,357.6 L468.7,357.4 L468.7,357.4 L469.7,357.2 L469.7,357.2 L470.7,357.0 L470.7,357.0 L471.7,356.7 L471.8,356.7 L472.8,356.5 L472.8,356.5 L473.9,356.2 L473.9,356.1 L475.0,355.8 L475.0,355.8 L476.1,355.5 L476.1,355.5 L477.2,355.1 L477.2,355.1 L478.3,354.7 L478.3,354.7 L479.4,354.3 L479.4,354.3 L480.5,353.9 L480.5,353.9 L481.5,353.5 L481.6,353.5 L482.6,353.0 L482.6,353.0 L483.7,352.6 L483.7,352.6 L484.8,352.1 L484.8,352.1 L485.9,351.6 L485.9,351.6 L487.0,351.1 L487.0,351.1 L488.1,350.6 L488.1,350.6 L489.2,350.0 L489.2,350.0 L490.3,349.5 L490.3,349.5 L491.4,348.9 L491.4,348.9 L492.5,348.3 L492.5,348.3 L493.6,347.6 L493.6,347.6 L494.7,347.0 L494.7,346.9 L495.7,346.3 L495.8,346.3 L496.7,345.6 L496.8,345.5 L497.7,344.8 L497.8,344.8 L498.7,344.1 L498.7,344.0 L499.6,343.3 L499.6,343.3 L500.5,342.5 L500.5,342.5 L501.3,341.7 L501.3,341.6 L502.1,340.8 L502.1,340.7 L502.9,339.9 L502.9,339.8 L503.6,338.9 L503.6,338.9 L504.3,337.9 L504.3,337.9 L504.9,336.9 L504.9,336.8 L505.5,335.8 L505.5,335.8 L506.0,334.7 L506.1,334.7 L506.5,333.6 L506.5,333.6 L507.0,332.5 L507.0,332.5 L507.4,331.4 L507.4,331.4 L507.8,330.4 L507.8,330.3 L508.1,329.3 L508.1,329.3 L508.4,328.3 L508.5,328.2 L508.7,327.3 L508.7,327.2 L509.0,326.3 L509.0,326.2 L509.2,325.3 L509.2,325.2 L509.4,324.3 L509.4,324.2 L509.5,323.3 L509.5,323.2 L509.6,322.2 L509.6,322.2 L509.7,321.2 L509.7,321.2 L509.8,320.1 L509.8,320.1 L509.9,319.1 L509.9,319.0 L509.9,318.0 L509.9,317.9 L509.9,316.9 L509.9,316.8 L509.9,315.7 L509.9,315.7 L509.8,314.6 L509.8,314.6 L509.6,313.5 L509.6,313.4 L509.4,312.4 L509.4,312.3 L509.2,311.2 L509.2,311.2 L508.9,310.1 L508.9,310.1 L508.6,309.0 L508.6,309.0 L508.2,307.9 L508.2,307.8 L507.8,306.8 L507.8,306.8 L507.4,305.8 L507.3,305.8 L506.9,304.9 L506.9,304.8 L506.4,304.0 L506.3,303.9 L505.8,303.1 L505.8,303.1 L505.3,302.3 L505.2,302.3 L504.7,301.6 L504.6,301.6 L504.0,301.0 L503.9,300.9 L503.3,300.3 L503.2,300.3 L502.5,299.8 L502.4,299.7 L501.6,299.2 L501.6,299.2 L500.7,298.7 L500.7,298.7 L499.8,298.3 L499.7,298.3 L498.7,297.9 L498.7,297.9 L497.6,297.6 L497.6,297.6 L496.5,297.3 L496.5,297.3 L495.3,297.0 L495.3,297.0 L494.1,296.8 L494.1,296.8 L492.9,296.7 L492.9,296.7 L491.7,296.5 L491.6,296.5 L490.4,296.4 L490.3,296.4 L489.1,296.3 L489.0,296.3 L487.7,296.3 L487.7,296.3 L486.3,296.3 L486.3,296.3 L485.0,296.3 L484.9,296.3 L483.6,296.4 L483.6,296.4 L482.2,296.4 L482.2,296.4 L480.8,296.5 L480.8,296.5 L479.5,296.7 L479.5,296.7 L478.1,296.8 L478.1,296.8 L476.7,297.0 L476.7,297.0 L475.4,297.2 L475.3,297.2 L474.0,297.4 L474.0,297.4 L472.6,297.6 L472.6,297.6 L471.2,297.9 L471.2,297.9 L469.9,298.2 L469.8,298.2 L468.5,298.5 L468.5,298.5 L467.1,298.9 L467.1,298.9 L465.7,299.3 L465.7,299.3 L464.4,299.7 L464.4,299.7 L463.0,300.1 L463.0,300.1 L461.7,300.6 L461.6,300.6 L460.3,301.1 L460.3,301.1 L458.9,301.5 L458.9,301.5 L457.6,302.0 L457.6,302.0 L456.2,302.5 L456.2,302.5 L454.8,303.1 L454.8,303.1 L453.5,303.6 L453.5,303.6 L452.1,304.2 L452.1,304.2 L450.8,304.7 L450.7,304.7 L449.4,305.3 L449.4,305.3 L448.0,305.9 L448.0,306.0 L446.7,306.6 L446.7,306.6 L445.3,307.2 L445.3,307.2 L443.9,307.9 L443.9,307.9 L442.6,308.6 L441.2,309.2 L439.9,309.9 L438.5,310.6 L437.2,311.3 L435.8,311.9 L433.1,313.3 L430.5,314.6 L429.2,315.3 L427.9,315.9 L426.7,316.5 L423.3,318.2 L422.2,318.7 L421.1,319.3 L420.1,319.8 L419.0,320.4 L417.9,320.9 L416.8,321.5 L415.7,322.0 L414.7,322.6 L413.6,323.1 L413.5,323.1 L412.6,323.7Z M415.2,323.6 L416.3,323.1 L417.4,322.5 L418.4,322.0 L419.5,321.4 L420.6,320.9 L421.7,320.4 L422.8,319.8 L423.8,319.3 L424.9,318.7 L426.1,318.2 L427.3,317.6 L428.5,317.0 L429.7,316.3 L431.0,315.7 L432.3,315.0 L433.7,314.4 L435.0,313.7 L436.4,313.0 L437.7,312.3 L439.1,311.7 L440.4,311.0 L441.8,310.3 L443.1,309.6 L444.5,309.0 L445.8,308.3 L447.2,307.7 L448.5,307.0 L449.9,306.4 L451.2,305.8 L452.6,305.3 L453.9,304.7 L455.3,304.2 L456.6,303.7 L458.0,303.2 L459.3,302.7 L460.7,302.2 L462.0,301.7 L463.4,301.3 L464.7,300.9 L466.1,300.4 L467.4,300.1 L468.8,299.7 L470.1,299.4 L471.5,299.1 L472.8,298.8 L474.2,298.6 L475.5,298.3 L476.9,298.2 L478.2,298.0 L479.6,297.9 L480.9,297.7 L482.3,297.6 L483.6,297.6 L485.0,297.5 L486.3,297.5 L487.7,297.5 L489.0,297.5 L490.3,297.6 L491.5,297.7 L492.7,297.8 L493.9,298.0 L495.1,298.2 L496.2,298.5 L497.3,298.7 L498.3,299.1 L499.3,299.4 L500.2,299.8 L501.0,300.2 L501.8,300.7 L502.5,301.2 L503.2,301.8 L503.7,302.4 L504.3,303.1 L504.8,303.8 L505.3,304.6 L505.8,305.4 L506.3,306.3 L506.7,307.2 L507.1,308.3 L507.4,309.3 L507.7,310.4 L508.0,311.5 L508.2,312.6 L508.4,313.6 L508.6,314.7 L508.7,315.8 L508.7,316.9 L508.7,317.9 L508.7,319.0 L508.6,320.0 L508.5,321.1 L508.4,322.1 L508.3,323.1 L508.2,324.1 L508.0,325.0 L507.8,326.0 L507.6,326.9 L507.3,327.9 L507.0,328.9 L506.7,329.9 L506.3,331.0 L505.9,332.0 L505.4,333.1 L505.0,334.2 L504.4,335.2 L503.9,336.3 L503.3,337.2 L502.6,338.2 L502.0,339.1 L501.2,340.0 L500.5,340.8 L499.6,341.6 L498.8,342.4 L497.9,343.1 L497.0,343.9 L496.0,344.6 L495.1,345.3 L494.0,345.9 L493.0,346.6 L491.9,347.2 L490.8,347.8 L489.7,348.4 L488.7,349.0 L487.6,349.5 L486.5,350.0 L485.4,350.5 L484.3,351.0 L483.3,351.5 L482.2,351.9 L481.1,352.4 L480.0,352.8 L478.9,353.2 L477.9,353.6 L476.8,354.0 L475.7,354.3 L474.6,354.7 L473.5,355.0 L472.5,355.3 L471.5,355.6 L470.4,355.8 L469.4,356.0 L468.5,356.2 L467.5,356.4 L466.6,356.5 L465.6,356.6 L464.7,356.7 L463.8,356.7 L462.8,356.7 L461.9,356.7 L460.9,356.6 L460.0,356.5 L459.0,356.4 L458.1,356.2 L457.1,356.1 L456.2,355.9 L455.2,355.7 L454.3,355.4 L453.3,355.2 L452.4,354.9 L451.4,354.7 L450.5,354.4 L449.5,354.0 L448.6,353.7 L447.6,353.3 L446.7,352.9 L445.8,352.5 L444.8,352.0 L443.9,351.5 L442.9,351.0 L442.0,350.5 L441.1,349.9 L440.1,349.3 L439.2,348.7 L438.2,348.1 L437.3,347.4 L436.3,346.8 L435.4,346.1 L434.4,345.5 L433.5,344.8 L432.5,344.2 L431.6,343.6 L430.7,343.1 L429.7,342.5 L428.8,342.0 L427.8,341.5 L426.9,340.9 L426.0,340.4 L425.0,339.9 L424.1,339.4 L423.1,339.0 L422.2,338.5 L421.2,338.0 L420.3,337.6 L419.4,337.1 L418.5,336.7 L417.6,336.3 L416.7,335.9 L415.9,335.5 L415.1,335.2 L414.2,334.8 L413.5,334.5 L412.8,334.1 L412.2,333.6 L411.6,333.2 L411.0,332.7 L410.6,332.2 L410.2,331.7 L409.8,331.2 L409.5,330.7 L409.3,330.2 L409.2,329.7 L409.1,329.2 L409.1,328.8 L409.2,328.3 L409.3,327.9 L409.6,327.5 L409.9,327.1 L410.3,326.6 L410.8,326.2 L411.5,325.7 L412.3,325.2 L413.1,324.7 L414.1,324.2 L415.2,323.6Z " fill="#a6d8ee" fill-rule="evenodd" filter="url(#texl)"/>
<path d="M413.1,324.7 L412.3,325.2 L411.5,325.7 L410.8,326.2 L410.3,326.6 L409.9,327.1 L409.6,327.5 L409.3,327.9 L409.2,328.3 L409.1,328.8 L409.1,329.2 L409.2,329.7 L409.3,330.2 L409.5,330.7 L409.8,331.2 L410.2,331.7 L410.6,332.2 L411.0,332.7 L411.6,333.2 L412.2,333.6 L412.8,334.1 L413.5,334.5 L414.2,334.8 L415.1,335.2 L415.9,335.5 L416.7,335.9 L417.6,336.3 L418.5,336.7 L419.4,337.1 L420.3,337.6 L421.2,338.0 L422.2,338.5 L423.1,339.0 L424.1,339.4 L425.0,339.9 L426.0,340.4 L426.9,340.9 L427.8,341.5 L428.8,342.0 L429.7,342.5 L430.7,343.1 L431.6,343.6 L432.5,344.2 L433.5,344.8 L434.4,345.5 L435.4,346.1 L436.3,346.8 L437.3,347.4 L438.2,348.1 L439.2,348.7 L440.1,349.3 L441.1,349.9 L442.0,350.5 L442.9,351.0 L443.9,351.5 L444.8,352.0 L445.8,352.5 L446.7,352.9 L447.6,353.3 L448.6,353.7 L449.5,354.0 L450.5,354.4 L451.4,354.7 L452.4,354.9 L453.3,355.2 L454.3,355.4 L455.2,355.7 L456.2,355.9 L457.1,356.1 L458.1,356.2 L459.0,356.4 L460.0,356.5 L460.9,356.6 L461.9,356.7 L462.8,356.7 L463.8,356.7 L464.7,356.7 L465.6,356.6 L466.6,356.5 L467.5,356.4 L468.5,356.2 L469.4,356.0 L470.4,355.8 L471.5,355.6 L472.5,355.3 L473.5,355.0 L474.6,354.7 L475.7,354.3 L476.8,354.0 L477.9,353.6 L478.9,353.2 L480.0,352.8 L481.1,352.4 L482.2,351.9 L483.3,351.5 L484.3,351.0 L485.4,350.5 L486.5,350.0 L487.6,349.5 L488.7,349.0 L489.7,348.4 L490.8,347.8 L491.9,347.2 L493.0,346.6 L494.0,345.9 L495.1,345.3 L496.0,344.6 L497.0,343.9 L497.9,343.1 L498.8,342.4 L499.6,341.6 L500.5,340.8 L501.2,340.0 L502.0,339.1 L502.6,338.2 L503.3,337.2 L503.9,336.3 L504.4,335.2 L505.0,334.2 L505.4,333.1 L505.9,332.0 L506.3,331.0 L506.7,329.9 L507.0,328.9 L507.3,327.9 L507.6,326.9 L507.8,326.0 L508.0,325.0 L508.2,324.1 L508.3,323.1 L508.4,322.1 L508.5,321.1 L508.6,320.0 L508.7,319.0 L508.7,317.9 L508.7,316.9 L508.7,315.8 L508.6,314.7 L508.4,313.6 L508.2,312.6 L508.0,311.5 L507.7,310.4 L507.4,309.3 L507.1,308.3 L506.7,307.2 L506.3,306.3 L505.8,305.4 L505.3,304.6 L504.8,303.8 L504.3,303.1 L503.7,302.4 L503.2,301.8 L502.5,301.2 L501.8,300.7 L501.0,300.2 L500.2,299.8 L499.3,299.4 L498.3,299.1 L497.3,298.7 L496.2,298.5 L495.1,298.2 L493.9,298.0 L492.7,297.8 L491.5,297.7 L490.3,297.6 L489.0,297.5 L487.7,297.5 L486.3,297.5 L485.0,297.5 L483.6,297.6 L482.3,297.6 L480.9,297.7 L479.6,297.9 L478.2,298.0 L476.9,298.2 L475.5,298.3 L474.2,298.6 L472.8,298.8 L471.5,299.1 L470.1,299.4 L468.8,299.7 L467.4,300.1 L466.1,300.4 L464.7,300.9 L463.4,301.3 L462.0,301.7 L460.7,302.2 L459.3,302.7 L458.0,303.2 L456.6,303.7 L455.3,304.2 L453.9,304.7 L452.6,305.3 L451.2,305.8 L449.9,306.4 L448.5,307.0 L447.2,307.7 L445.8,308.3 L444.5,309.0 L443.1,309.6 L441.8,310.3 L440.4,311.0 L439.1,311.7 L437.7,312.3 L436.4,313.0 L435.0,313.7 L433.7,314.4 L432.3,315.0 L431.0,315.7 L429.7,316.3 L428.5,317.0 L427.3,317.6 L426.1,318.2 L424.9,318.7 L423.8,319.3 L422.8,319.8 L421.7,320.4 L420.6,320.9 L419.5,321.4 L418.4,322.0 L417.4,322.5 L416.3,323.1 L415.2,323.6 L414.1,324.2 L413.1,324.7Z M430.3,324.5 L431.4,323.7 L432.6,322.9 L433.8,322.1 L435.0,321.3 L436.2,320.5 L437.5,319.7 L438.8,318.9 L440.2,318.1 L441.5,317.3 L442.9,316.5 L444.2,315.8 L445.6,315.1 L446.9,314.3 L448.3,313.6 L449.6,312.9 L451.0,312.3 L452.3,311.6 L453.7,311.0 L455.0,310.3 L456.4,309.7 L457.7,309.1 L459.1,308.5 L460.4,308.0 L461.8,307.4 L463.1,306.9 L464.5,306.4 L465.8,306.0 L467.2,305.6 L468.5,305.2 L469.9,304.9 L471.2,304.6 L472.6,304.3 L473.9,304.1 L475.3,303.9 L476.7,303.7 L478.1,303.5 L479.6,303.3 L481.0,303.2 L482.5,303.1 L484.0,303.0 L485.4,302.9 L486.8,302.9 L488.2,302.9 L489.4,303.0 L490.7,303.0 L491.9,303.1 L493.0,303.3 L494.1,303.4 L495.1,303.6 L496.1,303.9 L496.9,304.2 L497.8,304.6 L498.5,305.1 L499.2,305.6 L499.8,306.1 L500.3,306.7 L500.8,307.3 L501.3,308.0 L501.7,308.7 L502.1,309.4 L502.5,310.1 L502.8,310.9 L503.1,311.6 L503.4,312.5 L503.6,313.3 L503.8,314.2 L504.0,315.1 L504.1,316.0 L504.2,317.0 L504.3,318.0 L504.3,319.1 L504.3,320.1 L504.3,321.2 L504.2,322.2 L504.1,323.3 L504.0,324.3 L503.8,325.3 L503.6,326.3 L503.4,327.2 L503.1,328.2 L502.8,329.1 L502.5,330.0 L502.1,330.9 L501.7,331.8 L501.3,332.7 L500.8,333.5 L500.3,334.3 L499.8,335.2 L499.2,335.9 L498.6,336.7 L498.0,337.4 L497.3,338.2 L496.6,338.8 L495.8,339.5 L495.1,340.1 L494.2,340.8 L493.4,341.4 L492.5,341.9 L491.6,342.5 L490.6,343.0 L489.7,343.5 L488.6,344.0 L487.6,344.5 L486.5,345.0 L485.4,345.4 L484.3,345.9 L483.2,346.3 L482.0,346.8 L480.8,347.2 L479.7,347.6 L478.5,348.0 L477.2,348.4 L476.0,348.8 L474.9,349.1 L473.7,349.5 L472.6,349.8 L471.4,350.1 L470.3,350.3 L469.2,350.6 L468.2,350.8 L467.1,351.0 L466.1,351.1 L465.0,351.3 L464.0,351.3 L463.0,351.4 L462.0,351.3 L461.1,351.3 L460.1,351.2 L459.2,351.1 L458.2,351.0 L457.3,350.8 L456.3,350.6 L455.4,350.4 L454.4,350.2 L453.5,350.0 L452.5,349.7 L451.6,349.4 L450.6,349.1 L449.7,348.8 L448.7,348.5 L447.8,348.1 L446.9,347.8 L445.9,347.4 L445.0,346.9 L444.0,346.5 L443.1,346.1 L442.2,345.6 L441.2,345.1 L440.3,344.6 L439.3,344.1 L438.4,343.6 L437.4,343.1 L436.5,342.5 L435.6,342.0 L434.8,341.4 L434.0,340.8 L433.2,340.1 L432.4,339.5 L431.7,338.8 L431.1,338.2 L430.4,337.5 L429.8,336.9 L429.1,336.2 L428.5,335.6 L427.9,335.0 L427.4,334.5 L426.8,333.9 L426.3,333.4 L425.8,332.9 L425.5,332.4 L425.2,331.9 L425.0,331.4 L424.9,330.9 L424.8,330.5 L424.9,330.1 L425.0,329.6 L425.3,329.2 L425.6,328.7 L426.1,328.1 L426.7,327.5 L427.5,326.8 L428.3,326.1 L429.3,325.4 L430.3,324.5Z " fill="#3ea4d8" fill-rule="evenodd" filter="url(#tex)"/>
<path d="M427.6,325.2 L427.5,325.2 L426.7,325.9 L426.7,325.9 L425.9,326.6 L425.9,326.6 L425.3,327.3 L425.2,327.3 L424.7,327.9 L424.7,328.0 L424.3,328.5 L424.2,328.6 L424.0,329.1 L423.9,329.2 L423.9,329.3 L423.7,329.7 L423.7,329.8 L423.7,329.9 L423.6,330.3 L423.6,330.5 L423.6,330.6 L423.7,331.0 L423.7,331.1 L423.7,331.2 L423.8,331.7 L423.8,331.8 L423.9,331.9 L424.1,332.3 L424.1,332.5 L424.4,333.0 L424.5,333.1 L424.9,333.6 L424.9,333.6 L425.4,334.2 L425.4,334.2 L426.0,334.8 L427.1,335.9 L427.7,336.5 L428.3,337.1 L428.9,337.7 L429.6,338.4 L430.2,339.0 L430.9,339.7 L430.9,339.7 L431.6,340.4 L431.7,340.4 L432.4,341.0 L432.4,341.1 L433.2,341.7 L433.3,341.7 L434.1,342.3 L434.1,342.4 L434.9,342.9 L435.0,343.0 L435.9,343.5 L435.9,343.6 L436.8,344.1 L436.8,344.1 L437.8,344.7 L437.8,344.7 L438.7,345.2 L438.8,345.2 L439.7,345.7 L439.7,345.7 L440.7,346.2 L440.7,346.2 L441.6,346.7 L441.6,346.7 L442.6,347.2 L442.6,347.2 L443.5,347.6 L443.5,347.6 L444.5,348.0 L444.5,348.0 L445.4,348.5 L445.5,348.5 L446.4,348.9 L446.4,348.9 L447.4,349.2 L447.4,349.2 L448.3,349.6 L448.3,349.6 L449.3,349.9 L449.3,350.0 L450.2,350.3 L450.3,350.3 L451.2,350.6 L451.2,350.6 L452.2,350.9 L452.2,350.9 L453.2,351.1 L453.2,351.1 L454.1,351.4 L454.2,351.4 L455.1,351.6 L455.1,351.6 L456.1,351.8 L456.1,351.8 L457.1,352.0 L457.1,352.0 L458.0,352.2 L458.1,352.2 L459.0,352.3 L459.0,352.3 L460.0,352.4 L460.0,352.4 L461.0,352.5 L461.0,352.5 L462.0,352.5 L462.0,352.5 L463.0,352.6 L463.1,352.6 L464.1,352.5 L464.1,352.5 L465.1,352.5 L465.2,352.4 L466.2,352.3 L466.2,352.3 L467.3,352.2 L467.3,352.2 L468.4,352.0 L468.4,352.0 L469.5,351.8 L469.5,351.8 L470.6,351.5 L470.6,351.5 L471.7,351.2 L471.7,351.2 L472.9,350.9 L472.9,350.9 L474.0,350.6 L474.0,350.6 L475.2,350.3 L475.2,350.3 L476.4,349.9 L476.4,349.9 L477.6,349.5 L477.6,349.5 L478.8,349.1 L478.8,349.1 L480.0,348.7 L480.1,348.7 L481.2,348.3 L481.2,348.3 L482.4,347.9 L482.4,347.9 L483.6,347.4 L483.6,347.4 L484.7,347.0 L484.7,347.0 L485.8,346.6 L485.9,346.5 L487.0,346.1 L487.0,346.1 L488.1,345.6 L488.1,345.6 L489.1,345.1 L489.2,345.1 L490.2,344.6 L490.2,344.6 L491.2,344.1 L491.2,344.1 L492.2,343.5 L492.2,343.5 L493.1,343.0 L493.2,342.9 L494.1,342.4 L494.1,342.3 L494.9,341.7 L495.0,341.7 L495.8,341.1 L495.8,341.1 L496.6,340.4 L496.6,340.4 L497.4,339.7 L497.4,339.7 L498.1,339.0 L498.2,339.0 L498.8,338.3 L498.9,338.2 L499.5,337.5 L499.5,337.5 L500.1,336.7 L500.2,336.6 L500.8,335.9 L500.8,335.8 L501.3,335.0 L501.3,335.0 L501.8,334.1 L501.9,334.1 L502.3,333.2 L502.4,333.2 L502.8,332.3 L502.8,332.3 L503.2,331.4 L503.2,331.4 L503.6,330.5 L503.6,330.4 L504.0,329.5 L504.0,329.5 L504.3,328.5 L504.3,328.5 L504.5,327.5 L504.5,327.5 L504.8,326.5 L504.8,326.5 L505.0,325.5 L505.0,325.5 L505.2,324.5 L505.2,324.4 L505.3,323.4 L505.3,323.4 L505.4,322.4 L505.4,322.3 L505.5,321.3 L505.5,321.2 L505.5,320.2 L505.5,320.1 L505.5,319.1 L505.5,319.0 L505.5,318.0 L505.5,317.9 L505.4,316.9 L505.4,316.9 L505.3,315.9 L505.3,315.9 L505.2,314.9 L505.2,314.9 L505.0,314.0 L505.0,313.9 L504.8,313.0 L504.8,313.0 L504.5,312.1 L504.5,312.1 L504.3,311.3 L504.2,311.2 L503.9,310.4 L503.9,310.4 L503.6,309.6 L503.6,309.6 L503.2,308.8 L503.2,308.8 L502.8,308.1 L502.7,308.0 L502.3,307.3 L502.3,307.3 L501.8,306.6 L501.8,306.6 L501.3,305.9 L501.2,305.9 L500.7,305.3 L500.6,305.2 L500.0,304.7 L499.9,304.6 L499.2,304.1 L499.1,304.0 L498.4,303.6 L498.3,303.5 L497.5,303.2 L497.4,303.1 L496.5,302.8 L496.4,302.8 L495.4,302.5 L495.4,302.5 L494.3,302.3 L494.3,302.2 L493.2,302.1 L493.1,302.1 L492.0,301.9 L492.0,301.9 L490.8,301.8 L490.7,301.8 L489.5,301.8 L489.5,301.8 L488.2,301.7 L488.2,301.7 L486.8,301.7 L486.8,301.7 L485.4,301.8 L485.4,301.8 L483.9,301.8 L483.9,301.8 L482.4,301.9 L482.4,301.9 L480.9,302.0 L480.9,302.0 L479.5,302.1 L479.5,302.1 L478.0,302.3 L478.0,302.3 L476.6,302.5 L476.6,302.5 L475.2,302.7 L475.1,302.7 L473.8,302.9 L473.7,302.9 L472.4,303.1 L472.3,303.1 L471.0,303.4 L471.0,303.4 L469.6,303.7 L469.6,303.7 L468.2,304.0 L468.2,304.1 L466.9,304.4 L466.8,304.4 L465.5,304.8 L465.5,304.9 L464.1,305.3 L464.1,305.3 L462.7,305.8 L462.7,305.8 L461.3,306.3 L461.3,306.3 L460.0,306.9 L460.0,306.9 L458.6,307.4 L458.6,307.4 L457.3,308.0 L457.2,308.0 L455.9,308.6 L455.9,308.6 L454.5,309.2 L454.5,309.2 L453.2,309.9 L453.2,309.9 L451.8,310.5 L451.8,310.5 L450.4,311.2 L450.4,311.2 L449.1,311.9 L449.1,311.9 L447.7,312.6 L447.7,312.6 L446.4,313.3 L446.4,313.3 L445.0,314.0 L445.0,314.0 L443.6,314.7 L443.6,314.7 L442.3,315.5 L442.3,315.5 L440.9,316.3 L440.9,316.3 L439.6,317.1 L439.6,317.1 L438.2,317.9 L438.2,317.9 L436.9,318.7 L436.9,318.7 L435.6,319.5 L435.6,319.5 L434.3,320.3 L434.3,320.3 L433.1,321.1 L433.1,321.1 L431.9,321.9 L431.9,321.9 L430.8,322.8 L430.7,322.8 L429.6,323.6 L429.6,323.6 L428.5,324.4 L428.5,324.4 L427.6,325.2Z M430.3,324.5 L431.4,323.7 L432.6,322.9 L433.8,322.1 L435.0,321.3 L436.2,320.5 L437.5,319.7 L438.8,318.9 L440.2,318.1 L441.5,317.3 L442.9,316.5 L444.2,315.8 L445.6,315.1 L446.9,314.3 L448.3,313.6 L449.6,312.9 L451.0,312.3 L452.3,311.6 L453.7,311.0 L455.0,310.3 L456.4,309.7 L457.7,309.1 L459.1,308.5 L460.4,308.0 L461.8,307.4 L463.1,306.9 L464.5,306.4 L465.8,306.0 L467.2,305.6 L468.5,305.2 L469.9,304.9 L471.2,304.6 L472.6,304.3 L473.9,304.1 L475.3,303.9 L476.7,303.7 L478.1,303.5 L479.6,303.3 L481.0,303.2 L482.5,303.1 L484.0,303.0 L485.4,302.9 L486.8,302.9 L488.2,302.9 L489.4,303.0 L490.7,303.0 L491.9,303.1 L493.0,303.3 L494.1,303.4 L495.1,303.6 L496.1,303.9 L496.9,304.2 L497.8,304.6 L498.5,305.1 L499.2,305.6 L499.8,306.1 L500.3,306.7 L500.8,307.3 L501.3,308.0 L501.7,308.7 L502.1,309.4 L502.5,310.1 L502.8,310.9 L503.1,311.6 L503.4,312.5 L503.6,313.3 L503.8,314.2 L504.0,315.1 L504.1,316.0 L504.2,317.0 L504.3,318.0 L504.3,319.1 L504.3,320.1 L504.3,321.2 L504.2,322.2 L504.1,323.3 L504.0,324.3 L503.8,325.3 L503.6,326.3 L503.4,327.2 L503.1,328.2 L502.8,329.1 L502.5,330.0 L502.1,330.9 L501.7,331.8 L501.3,332.7 L500.8,333.5 L500.3,334.3 L499.8,335.2 L499.2,335.9 L498.6,336.7 L498.0,337.4 L497.3,338.2 L496.6,338.8 L495.8,339.5 L495.1,340.1 L494.2,340.8 L493.4,341.4 L492.5,341.9 L491.6,342.5 L490.6,343.0 L489.7,343.5 L488.6,344.0 L487.6,344.5 L486.5,345.0 L485.4,345.4 L484.3,345.9 L483.2,346.3 L482.0,346.8 L480.8,347.2 L479.7,347.6 L478.5,348.0 L477.2,348.4 L476.0,348.8 L474.9,349.1 L473.7,349.5 L472.6,349.8 L471.4,350.1 L470.3,350.3 L469.2,350.6 L468.2,350.8 L467.1,351.0 L466.1,351.1 L465.0,351.3 L464.0,351.3 L463.0,351.4 L462.0,351.3 L461.1,351.3 L460.1,351.2 L459.2,351.1 L458.2,351.0 L457.3,350.8 L456.3,350.6 L455.4,350.4 L454.4,350.2 L453.5,350.0 L452.5,349.7 L451.6,349.4 L450.6,349.1 L449.7,348.8 L448.7,348.5 L447.8,348.1 L446.9,347.8 L445.9,347.4 L445.0,346.9 L444.0,346.5 L443.1,346.1 L442.2,345.6 L441.2,345.1 L440.3,344.6 L439.3,344.1 L438.4,343.6 L437.4,343.1 L436.5,342.5 L435.6,342.0 L434.8,341.4 L434.0,340.8 L433.2,340.1 L432.4,339.5 L431.7,338.8 L431.1,338.2 L430.4,337.5 L429.8,336.9 L429.1,336.2 L428.5,335.6 L427.9,335.0 L427.4,334.5 L426.8,333.9 L426.3,333.4 L425.8,332.9 L425.5,332.4 L425.2,331.9 L425.0,331.4 L424.9,330.9 L424.8,330.5 L424.9,330.1 L425.0,329.6 L425.3,329.2 L425.6,328.7 L426.1,328.1 L426.7,327.5 L427.5,326.8 L428.3,326.1 L429.3,325.4 L430.3,324.5Z " fill="#7fc6e6" fill-rule="evenodd" filter="url(#texl)"/>
<path d="M429.3,325.4 L430.3,324.5 L431.4,323.7 L432.6,322.9 L433.8,322.1 L435.0,321.3 L436.2,320.5 L437.5,319.7 L438.8,318.9 L440.2,318.1 L441.5,317.3 L442.9,316.5 L444.2,315.8 L445.6,315.1 L446.9,314.3 L448.3,313.6 L449.6,312.9 L451.0,312.3 L452.3,311.6 L453.7,311.0 L455.0,310.3 L456.4,309.7 L457.7,309.1 L459.1,308.5 L460.4,308.0 L461.8,307.4 L463.1,306.9 L464.5,306.4 L465.8,306.0 L467.2,305.6 L468.5,305.2 L469.9,304.9 L471.2,304.6 L472.6,304.3 L473.9,304.1 L475.3,303.9 L476.7,303.7 L478.1,303.5 L479.6,303.3 L481.0,303.2 L482.5,303.1 L484.0,303.0 L485.4,302.9 L486.8,302.9 L488.2,302.9 L489.4,303.0 L490.7,303.0 L491.9,303.1 L493.0,303.3 L494.1,303.4 L495.1,303.6 L496.1,303.9 L496.9,304.2 L497.8,304.6 L498.5,305.1 L499.2,305.6 L499.8,306.1 L500.3,306.7 L500.8,307.3 L501.3,308.0 L501.7,308.7 L502.1,309.4 L502.5,310.1 L502.8,310.9 L503.1,311.6 L503.4,312.5 L503.6,313.3 L503.8,314.2 L504.0,315.1 L504.1,316.0 L504.2,317.0 L504.3,318.0 L504.3,319.1 L504.3,320.1 L504.3,321.2 L504.2,322.2 L504.1,323.3 L504.0,324.3 L503.8,325.3 L503.6,326.3 L503.4,327.2 L503.1,328.2 L502.8,329.1 L502.5,330.0 L502.1,330.9 L501.7,331.8 L501.3,332.7 L500.8,333.5 L500.3,334.3 L499.8,335.2 L499.2,335.9 L498.6,336.7 L498.0,337.4 L497.3,338.2 L496.6,338.8 L495.8,339.5 L495.1,340.1 L494.2,340.8 L493.4,341.4 L492.5,341.9 L491.6,342.5 L490.6,343.0 L489.7,343.5 L488.6,344.0 L487.6,344.5 L486.5,345.0 L485.4,345.4 L484.3,345.9 L483.2,346.3 L482.0,346.8 L480.8,347.2 L479.7,347.6 L478.5,348.0 L477.2,348.4 L476.0,348.8 L474.9,349.1 L473.7,349.5 L472.6,349.8 L471.4,350.1 L470.3,350.3 L469.2,350.6 L468.2,350.8 L467.1,351.0 L466.1,351.1 L465.0,351.3 L464.0,351.3 L463.0,351.4 L462.0,351.3 L461.1,351.3 L460.1,351.2 L459.2,351.1 L458.2,351.0 L457.3,350.8 L456.3,350.6 L455.4,350.4 L454.4,350.2 L453.5,350.0 L452.5,349.7 L451.6,349.4 L450.6,349.1 L449.7,348.8 L448.7,348.5 L447.8,348.1 L446.9,347.8 L445.9,347.4 L445.0,346.9 L444.0,346.5 L443.1,346.1 L442.2,345.6 L441.2,345.1 L440.3,344.6 L439.3,344.1 L438.4,343.6 L437.4,343.1 L436.5,342.5 L435.6,342.0 L434.8,341.4 L434.0,340.8 L433.2,340.1 L432.4,339.5 L431.7,338.8 L431.1,338.2 L430.4,337.5 L429.8,336.9 L429.1,336.2 L428.5,335.6 L427.9,335.0 L427.4,334.5 L426.8,333.9 L426.3,333.4 L425.8,332.9 L425.5,332.4 L425.2,331.9 L425.0,331.4 L424.9,330.9 L424.8,330.5 L424.9,330.1 L425.0,329.6 L425.3,329.2 L425.6,328.7 L426.1,328.1 L426.7,327.5 L427.5,326.8 L428.3,326.1 L429.3,325.4Z " fill="#f8eef4" opacity="1" filter="url(#texl)"/>
<path d="M427.6,325.0 L438.4,315.3 L452.5,308.8 L464.4,306.0 L471.9,306.0 L477.3,309.9 L482.7,314.2 L479.5,315.7 L474.1,315.3 L470.8,319.6 L473.0,327.1 L470.8,332.5 L467.6,340.1 L465.4,346.6 L460.0,344.4 L449.2,339.0 L438.4,333.6 L428.7,327.1Z" fill="#cb7edb" filter="url(#texl)"/>
<path d="M427.6,325.0 L438.4,315.3 L452.5,308.8 L464.4,306.0 L471.9,306.0 L477.3,309.9 L482.7,314.2 L479.5,315.7 L474.1,315.3 L470.8,319.6 L473.0,327.1 L470.8,332.5 L467.6,340.1 L465.4,346.6 L460.0,344.4 L449.2,339.0 L438.4,333.6 L428.7,327.1Z" fill="none" stroke="#2a0a2a" stroke-width="1" stroke-linejoin="round"/>
<text x="461" y="337.6" font-family="Liberation Serif, serif" font-weight="bold" font-size="11" text-anchor="middle" fill="#1a0a1a">PT</text>
<rect x="46.5" y="253.4" width="109.3" height="114.9" fill="none" stroke="#111" stroke-width="1.4"/>
<rect x="166.4" y="252.8" width="109.3" height="115.2" fill="none" stroke="#111" stroke-width="1.4"/>
<rect x="286.2" y="252.4" width="109.5" height="115.3" fill="none" stroke="#111" stroke-width="1.4"/>
<rect x="406.2" y="251.7" width="109.6" height="115.3" fill="none" stroke="#111" stroke-width="1.4"/>
</svg>
</body></html>
